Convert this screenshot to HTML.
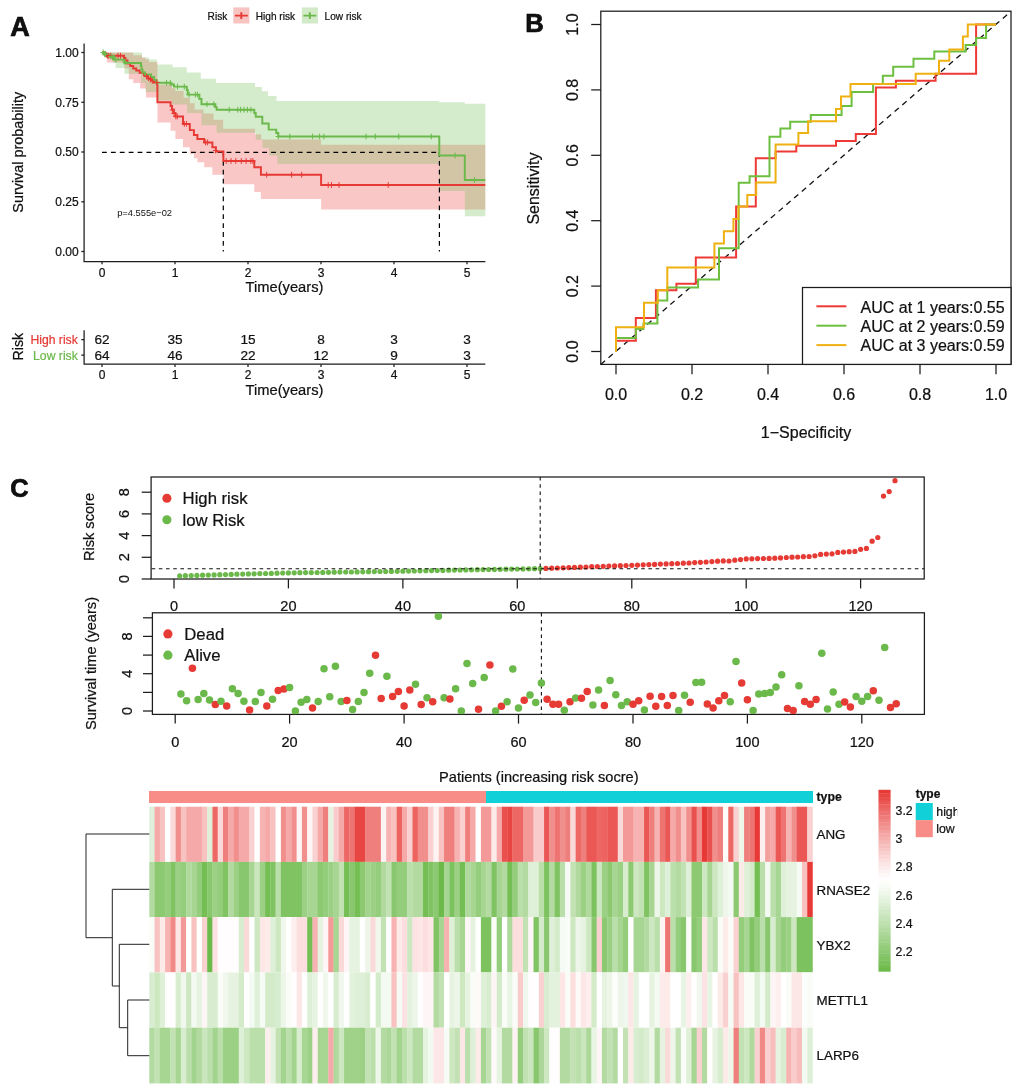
<!DOCTYPE html><html><head><meta charset="utf-8"><title>Figure</title>
<style>html,body{margin:0;padding:0;background:#fff}svg{display:block}text{font-family:"Liberation Sans",Arial,Helvetica,sans-serif;fill:#111;stroke:#111;stroke-width:0.22px}.b{stroke:#000;stroke-width:0.7px}</style></head><body>
<svg width="1020" height="1092" viewBox="0 0 1020 1092">
<rect width="1020" height="1092" fill="#fff"/>
<g id="panelA">
<text class="b" x="10.3" y="35.6" font-size="27" font-weight="bold" fill="#000">A</text>
<path d="M102.0,52.5 L133.2,52.5 L133.2,55.2 L142.0,55.2 L142.0,57.6 L145.5,57.6 L145.5,59.6 L149.0,59.6 L149.0,62.1 L157.5,62.1 L157.5,84.5 L172.0,84.5 L172.0,88.2 L175.4,88.2 L175.4,91.0 L183.6,91.0 L183.6,97.8 L189.8,97.8 L189.8,103.3 L194.6,103.3 L194.6,109.5 L203.5,109.5 L203.5,113.6 L213.5,113.6 L213.5,119.8 L223.2,119.8 L223.2,128.7 L255.0,128.7 L255.0,134.2 L261.2,134.2 L261.2,139.5 L321.1,139.5 L321.1,144.7 L485.3,144.7 L485.3,209.4 L321.1,209.4 L321.1,199.0 L260.9,199.0 L260.9,191.9 L254.3,191.9 L254.3,184.3 L223.4,184.3 L223.4,174.7 L212.4,174.7 L212.4,167.2 L204.2,167.2 L204.2,162.3 L197.4,162.3 L197.4,158.2 L193.9,158.2 L193.9,154.1 L189.8,154.1 L189.8,147.3 L183.0,147.3 L183.0,139.0 L175.4,139.0 L175.4,130.8 L170.6,130.8 L170.6,122.5 L157.5,122.5 L157.5,97.4 L146.0,97.4 L146.0,88.5 L140.1,88.5 L140.1,83.1 L133.2,83.1 L133.2,79.2 L128.8,79.2 L128.8,68.4 L124.4,68.4 L124.4,62.5 L106.8,62.5 L106.8,57.0 L105.0,57.0 L105.0,52.5 L102.0,52.5Z" fill="#ee4646" fill-opacity="0.3" stroke="none"/>
<path d="M102.0,52.5 L142.0,52.5 L142.0,57.6 L149.0,57.6 L149.0,59.6 L156.9,59.6 L156.9,64.4 L172.6,64.4 L172.6,67.2 L186.8,67.2 L186.8,72.6 L200.8,72.6 L200.8,78.8 L215.9,78.8 L215.9,82.9 L255.0,82.9 L255.0,87.1 L261.9,87.1 L261.9,91.2 L268.0,91.2 L268.0,96.0 L276.5,96.0 L276.5,101.1 L439.3,101.1 L439.3,102.2 L464.8,102.2 L464.8,103.7 L485.3,103.7 L485.3,216.3 L464.8,216.3 L464.8,191.1 L439.3,191.1 L439.3,164.0 L277.4,164.0 L277.4,155.5 L269.1,155.5 L269.1,147.9 L262.5,147.9 L262.5,139.7 L255.7,139.7 L255.7,132.8 L216.6,132.8 L216.6,125.3 L201.5,125.3 L201.5,112.9 L187.0,112.9 L187.0,104.4 L172.0,104.4 L172.0,100.6 L157.0,100.6 L157.0,92.0 L145.5,92.0 L145.5,83.1 L141.0,83.1 L141.0,73.8 L124.4,73.8 L124.4,68.0 L115.6,68.0 L115.6,63.0 L113.0,63.0 L113.0,58.6 L108.0,58.6 L108.0,56.0 L104.0,56.0 L104.0,52.5 L102.0,52.5Z" fill="#74bf56" fill-opacity="0.3" stroke="none"/>
<g stroke="#000" stroke-width="1.2" stroke-dasharray="4.8,4.1" fill="none">
<path d="M102,152.4H439.3"/><path d="M223.3,152V251.5"/><path d="M439.4,152V251.5"/></g>
<path d="M102.0,52.5 L105.0,52.5 L105.0,54.0 L107.0,54.0 L107.0,55.7 L124.0,55.7 L124.0,58.0 L125.5,58.0 L125.5,60.5 L127.5,60.5 L127.5,63.5 L130.3,63.5 L130.3,66.0 L133.2,66.0 L133.2,68.4 L136.2,68.4 L136.2,70.4 L139.6,70.4 L139.6,72.8 L144.0,72.8 L144.0,75.3 L148.0,75.3 L148.0,78.2 L151.0,78.2 L151.0,80.2 L153.8,80.2 L153.8,82.4 L157.4,82.4 L157.4,102.2 L170.6,102.2 L170.6,106.0 L172.0,106.0 L172.0,109.5 L173.7,109.5 L173.7,113.0 L175.4,113.0 L175.4,116.4 L183.0,116.4 L183.0,123.9 L189.8,123.9 L189.8,130.1 L193.9,130.1 L193.9,134.9 L197.4,134.9 L197.4,139.0 L204.2,139.0 L204.2,142.4 L212.4,142.4 L212.4,147.3 L215.9,147.3 L215.9,151.4 L223.4,151.4 L223.4,161.0 L254.3,161.0 L254.3,167.2 L260.9,167.2 L260.9,174.7 L321.1,174.7 L321.1,185.0 L485.3,185.0" fill="none" stroke="#e63a35" stroke-width="1.95" stroke-linejoin="miter"/>
<path d="M102.0,52.5 L104.0,52.5 L104.0,54.0 L108.0,54.0 L108.0,56.0 L114.0,56.0 L114.0,59.6 L124.4,59.6 L124.4,63.0 L141.0,63.0 L141.0,66.0 L141.5,66.0 L141.5,69.5 L142.5,69.5 L142.5,72.5 L145.0,72.5 L145.0,74.5 L151.0,74.5 L151.0,77.0 L154.0,77.0 L154.0,80.0 L156.5,80.0 L156.5,82.8 L170.6,82.8 L170.6,84.5 L174.0,84.5 L174.0,86.6 L186.8,86.6 L186.8,90.0 L187.7,90.0 L187.7,94.6 L199.4,94.6 L199.4,99.0 L201.5,99.0 L201.5,104.2 L215.2,104.2 L215.2,107.0 L216.6,107.0 L216.6,109.7 L254.3,109.7 L254.3,113.0 L255.7,113.0 L255.7,116.8 L262.3,116.8 L262.3,123.4 L268.7,123.4 L268.7,129.6 L276.3,129.6 L276.3,133.0 L278.3,133.0 L278.3,136.5 L439.3,136.5 L439.3,155.5 L464.8,155.5 L464.8,179.9 L485.3,179.9" fill="none" stroke="#6bb94a" stroke-width="1.95" stroke-linejoin="miter"/>
<path d="M103.5,55.0h5.4M106.2,52.1v5.8M104.9,55.7h5.4M107.6,52.8v5.8M106.1,55.7h5.4M108.8,52.8v5.8M107.9,55.7h5.4M110.6,52.8v5.8M115.3,55.7h5.4M118.0,52.8v5.8M117.8,55.7h5.4M120.5,52.8v5.8M143.8,76.5h5.4M146.5,73.6v5.8M145.8,78.2h5.4M148.5,75.3v5.8M147.8,79.5h5.4M150.5,76.6v5.8M149.6,81.0h5.4M152.3,78.1v5.8M154.1,82.5h5.4M156.8,79.6v5.8M169.8,110.0h5.4M172.5,107.1v5.8M171.3,113.5h5.4M174.0,110.6v5.8M173.1,116.4h5.4M175.8,113.5v5.8M174.6,116.4h5.4M177.3,113.5v5.8M181.6,123.9h5.4M184.3,121.0v5.8M183.7,123.9h5.4M186.4,121.0v5.8M202.9,142.4h5.4M205.6,139.5v5.8M204.9,142.4h5.4M207.6,139.5v5.8M212.9,150.5h5.4M215.6,147.6v5.8M223.5,161.0h5.4M226.2,158.1v5.8M228.3,161.0h5.4M231.0,158.1v5.8M233.1,161.0h5.4M235.8,158.1v5.8M238.6,161.0h5.4M241.3,158.1v5.8M243.4,161.0h5.4M246.1,158.1v5.8M248.2,161.0h5.4M250.9,158.1v5.8M250.2,161.0h5.4M252.9,158.1v5.8M264.0,174.7h5.4M266.7,171.8v5.8M288.9,174.7h5.4M291.6,171.8v5.8M299.0,174.7h5.4M301.7,171.8v5.8M325.5,185.0h5.4M328.2,182.1v5.8M328.8,185.0h5.4M331.5,182.1v5.8M336.3,185.0h5.4M339.0,182.1v5.8M385.5,185.0h5.4M388.2,182.1v5.8" fill="none" stroke="#e63a35" stroke-width="1"/>
<path d="M100.5,52.5h5.4M103.2,49.6v5.8M101.9,54.0h5.4M104.6,51.1v5.8M102.8,54.0h5.4M105.5,51.1v5.8M108.3,56.5h5.4M111.0,53.6v5.8M109.8,57.5h5.4M112.5,54.6v5.8M113.1,59.6h5.4M115.8,56.7v5.8M122.1,62.0h5.4M124.8,59.1v5.8M163.8,82.8h5.4M166.5,79.9v5.8M167.6,82.8h5.4M170.3,79.9v5.8M174.8,86.6h5.4M177.5,83.7v5.8M181.6,86.6h5.4M184.3,83.7v5.8M186.4,94.6h5.4M189.1,91.7v5.8M192.6,94.6h5.4M195.3,91.7v5.8M194.7,94.6h5.4M197.4,91.7v5.8M204.3,104.2h5.4M207.0,101.3v5.8M211.1,104.2h5.4M213.8,101.3v5.8M226.6,109.7h5.4M229.3,106.8v5.8M235.1,109.7h5.4M237.8,106.8v5.8M237.9,109.7h5.4M240.6,106.8v5.8M241.3,109.7h5.4M244.0,106.8v5.8M244.7,109.7h5.4M247.4,106.8v5.8M248.2,109.7h5.4M250.9,106.8v5.8M275.6,136.5h5.4M278.3,133.6v5.8M287.1,136.5h5.4M289.8,133.6v5.8M310.0,136.5h5.4M312.7,133.6v5.8M316.9,136.5h5.4M319.6,133.6v5.8M321.2,136.5h5.4M323.9,133.6v5.8M363.3,136.5h5.4M366.0,133.6v5.8M372.6,136.5h5.4M375.3,133.6v5.8M396.1,136.5h5.4M398.8,133.6v5.8M428.6,136.5h5.4M431.3,133.6v5.8M452.4,155.5h5.4M455.1,152.6v5.8M471.8,179.9h5.4M474.5,177.0v5.8" fill="none" stroke="#6bb94a" stroke-width="1"/>
<g stroke="#1c1c1c" stroke-width="1.25" fill="none">
<path d="M84.1,43.5V261.5H485.3"/>
<path d="M81.3,52.5H84.1"/>
<path d="M81.3,102.3H84.1"/>
<path d="M81.3,152H84.1"/>
<path d="M81.3,201.8H84.1"/>
<path d="M81.3,251.5H84.1"/>
<path d="M102,261.5V264.3"/>
<path d="M175,261.5V264.3"/>
<path d="M248,261.5V264.3"/>
<path d="M321,261.5V264.3"/>
<path d="M394,261.5V264.3"/>
<path d="M467,261.5V264.3"/>
</g>
<text x="78.6" y="56.8" font-size="12" text-anchor="end">1.00</text>
<text x="78.6" y="106.6" font-size="12" text-anchor="end">0.75</text>
<text x="78.6" y="156.3" font-size="12" text-anchor="end">0.50</text>
<text x="78.6" y="206.10000000000002" font-size="12" text-anchor="end">0.25</text>
<text x="78.6" y="255.8" font-size="12" text-anchor="end">0.00</text>
<text x="102" y="276.7" font-size="12" text-anchor="middle">0</text>
<text x="175" y="276.7" font-size="12" text-anchor="middle">1</text>
<text x="248" y="276.7" font-size="12" text-anchor="middle">2</text>
<text x="321" y="276.7" font-size="12" text-anchor="middle">3</text>
<text x="394" y="276.7" font-size="12" text-anchor="middle">4</text>
<text x="467" y="276.7" font-size="12" text-anchor="middle">5</text>
<text x="284.5" y="292.3" font-size="14.7" text-anchor="middle">Time(years)</text>
<text transform="translate(23.2,152.3) rotate(-90)" font-size="14.4" text-anchor="middle">Survival probability</text>
<text x="117.2" y="215.6" font-size="9.3" style="stroke:none">p=4.555e−02</text>
<text x="207.6" y="19.7" font-size="10.1">Risk</text>
<rect x="233.3" y="7.4" width="16.1" height="16.1" fill="#e63a35" fill-opacity="0.3"/>
<path d="M234.9,15.6H247.8M241.3,12.2V19" stroke="#e63a35" stroke-width="1.9" fill="none"/>
<text x="255.8" y="19.7" font-size="10.1">High risk</text>
<rect x="301.8" y="7.4" width="16.1" height="16.1" fill="#6bb94a" fill-opacity="0.3"/>
<path d="M303.4,15.6H316.3M309.8,12.2V19" stroke="#6bb94a" stroke-width="1.9" fill="none"/>
<text x="324.6" y="19.7" font-size="10.1">Low risk</text>
<g stroke="#1c1c1c" stroke-width="1.25" fill="none">
<path d="M84.1,330.3V364.2H485.3"/>
<path d="M81.3,339.6H84.1M81.3,355.2H84.1"/>
<path d="M102,364.2V367"/>
<path d="M175,364.2V367"/>
<path d="M248,364.2V367"/>
<path d="M321,364.2V367"/>
<path d="M394,364.2V367"/>
<path d="M467,364.2V367"/>
</g>
<text x="77.8" y="344" font-size="12.2" text-anchor="end" fill="#e63a35" style="fill:#e63a35;stroke:#e63a35">High risk</text>
<text x="77.8" y="359.6" font-size="12.2" text-anchor="end" fill="#6bb94a" style="fill:#6bb94a;stroke:#6bb94a">Low risk</text>
<text x="102" y="344.3" font-size="13.6" text-anchor="middle">62</text>
<text x="102" y="360" font-size="13.6" text-anchor="middle">64</text>
<text x="102" y="379.2" font-size="12" text-anchor="middle">0</text>
<text x="175" y="344.3" font-size="13.6" text-anchor="middle">35</text>
<text x="175" y="360" font-size="13.6" text-anchor="middle">46</text>
<text x="175" y="379.2" font-size="12" text-anchor="middle">1</text>
<text x="248" y="344.3" font-size="13.6" text-anchor="middle">15</text>
<text x="248" y="360" font-size="13.6" text-anchor="middle">22</text>
<text x="248" y="379.2" font-size="12" text-anchor="middle">2</text>
<text x="321" y="344.3" font-size="13.6" text-anchor="middle">8</text>
<text x="321" y="360" font-size="13.6" text-anchor="middle">12</text>
<text x="321" y="379.2" font-size="12" text-anchor="middle">3</text>
<text x="394" y="344.3" font-size="13.6" text-anchor="middle">3</text>
<text x="394" y="360" font-size="13.6" text-anchor="middle">9</text>
<text x="394" y="379.2" font-size="12" text-anchor="middle">4</text>
<text x="467" y="344.3" font-size="13.6" text-anchor="middle">3</text>
<text x="467" y="360" font-size="13.6" text-anchor="middle">3</text>
<text x="467" y="379.2" font-size="12" text-anchor="middle">5</text>
<text x="284.5" y="394.8" font-size="14.7" text-anchor="middle">Time(years)</text>
<text transform="translate(23.4,346.6) rotate(-90)" font-size="14.2" text-anchor="middle">Risk</text>
</g>
<g id="panelB">
<text class="b" x="525.2" y="32.3" font-size="25.6" font-weight="bold" fill="#000">B</text>
<rect x="600.8" y="11.2" width="410.2" height="353.2" fill="none" stroke="#1c1c1c" stroke-width="1.25"/>
<g stroke="#1c1c1c" stroke-width="1.25" fill="none">
<path d="M616.0,364.4v9.8"/>
<path d="M600.8,351.5h-9.6"/>
<path d="M692.0,364.4v9.8"/>
<path d="M600.8,286.1h-9.6"/>
<path d="M768.0,364.4v9.8"/>
<path d="M600.8,220.7h-9.6"/>
<path d="M844.0,364.4v9.8"/>
<path d="M600.8,155.3h-9.6"/>
<path d="M920.0,364.4v9.8"/>
<path d="M600.8,89.9h-9.6"/>
<path d="M996.0,364.4v9.8"/>
<path d="M600.8,24.5h-9.6"/>
</g>
<text x="616.0" y="400.1" font-size="16" text-anchor="middle">0.0</text>
<text transform="translate(577.6,351.5) rotate(-90)" font-size="16" text-anchor="middle">0.0</text>
<text x="692.0" y="400.1" font-size="16" text-anchor="middle">0.2</text>
<text transform="translate(577.6,286.1) rotate(-90)" font-size="16" text-anchor="middle">0.2</text>
<text x="768.0" y="400.1" font-size="16" text-anchor="middle">0.4</text>
<text transform="translate(577.6,220.7) rotate(-90)" font-size="16" text-anchor="middle">0.4</text>
<text x="844.0" y="400.1" font-size="16" text-anchor="middle">0.6</text>
<text transform="translate(577.6,155.3) rotate(-90)" font-size="16" text-anchor="middle">0.6</text>
<text x="920.0" y="400.1" font-size="16" text-anchor="middle">0.8</text>
<text transform="translate(577.6,89.9) rotate(-90)" font-size="16" text-anchor="middle">0.8</text>
<text x="996.0" y="400.1" font-size="16" text-anchor="middle">1.0</text>
<text transform="translate(577.6,24.5) rotate(-90)" font-size="16" text-anchor="middle">1.0</text>
<text x="806" y="438.3" font-size="16" text-anchor="middle">1−Specificity</text>
<text transform="translate(538.8,188.6) rotate(-90)" font-size="16" text-anchor="middle">Sensitivity</text>
<path d="M600.8,364.4L1011,11.4" stroke="#111" stroke-width="1.3" stroke-dasharray="5.6,4.6" fill="none"/>
<path d="M616.0,351.5 L616.0,351.5 L616.0,340.7 L635.8,340.7 L635.8,318.1 L655.9,318.1 L655.9,290.2 L676.4,290.2 L676.4,283.8 L695.8,283.8 L695.8,257.5 L736.1,257.5 L736.1,206.6 L755.8,206.6 L755.8,158.2 L775.6,158.2 L775.6,151.4 L796.3,151.4 L796.3,145.8 L836.0,145.8 L836.0,140.9 L855.8,140.9 L855.8,134.0 L875.9,134.0 L875.9,87.6 L895.9,87.6 L895.9,80.7 L935.6,80.7 L935.6,73.7 L976.1,73.7 L976.1,24.5 L996.0,24.5" fill="none" stroke="#ee3a36" stroke-width="2" stroke-linejoin="miter"/>
<path d="M616.0,351.5 L616.0,351.5 L616.0,338.1 L635.8,338.1 L635.8,328.9 L643.4,328.9 L643.4,323.5 L657.4,323.5 L657.4,300.5 L667.3,300.5 L667.3,287.4 L698.1,287.4 L698.1,279.6 L719.0,279.6 L719.0,248.2 L738.7,248.2 L738.7,182.8 L749.6,182.8 L749.6,176.2 L769.5,176.2 L769.5,136.8 L780.4,136.8 L780.4,128.6 L790.2,128.6 L790.2,121.7 L810.8,121.7 L810.8,115.1 L841.6,115.1 L841.6,106.1 L851.6,106.1 L851.6,91.9 L873.1,91.9 L873.1,84.1 L882.8,84.1 L882.8,75.8 L893.2,75.8 L893.2,66.8 L913.5,66.8 L913.5,58.8 L934.3,58.8 L934.3,51.6 L965.6,51.6 L965.6,44.9 L976.1,44.9 L976.1,38.0 L986.1,38.0 L986.1,24.5 L996.0,24.5" fill="none" stroke="#6cbf3f" stroke-width="2" stroke-linejoin="miter"/>
<path d="M616.0,351.5 L616.0,351.5 L616.0,327.3 L644.0,327.3 L644.0,302.8 L657.8,302.8 L657.8,290.2 L667.3,290.2 L667.3,267.6 L714.4,267.6 L714.4,243.6 L723.9,243.6 L723.9,231.2 L733.4,231.2 L733.4,219.1 L738.4,219.1 L738.4,206.6 L747.3,206.6 L747.3,194.9 L756.2,194.9 L756.2,182.4 L775.6,182.4 L775.6,144.5 L798.4,144.5 L798.4,133.1 L808.1,133.1 L808.1,121.3 L836.0,121.3 L836.0,108.9 L841.0,108.9 L841.0,96.4 L850.5,96.4 L850.5,84.1 L915.7,84.1 L915.7,73.7 L939.0,73.7 L939.0,60.8 L949.3,60.8 L949.3,49.4 L962.9,49.4 L962.9,36.6 L967.8,36.6 L967.8,24.5 L996.0,24.5" fill="none" stroke="#eeb111" stroke-width="2" stroke-linejoin="miter"/>
<rect x="802.5" y="287.5" width="208.5" height="76.9" fill="#fff" stroke="#1c1c1c" stroke-width="1.25"/>
<path d="M816.4,306.3H846.4" stroke="#ee3a36" stroke-width="2"/>
<text x="860.6" y="312.6" font-size="16">AUC at 1 years:0.55</text>
<path d="M816.4,325.7H846.4" stroke="#6cbf3f" stroke-width="2"/>
<text x="860.6" y="332.0" font-size="16">AUC at 2 years:0.59</text>
<path d="M816.4,345.1H846.4" stroke="#eeb111" stroke-width="2"/>
<text x="860.6" y="351.4" font-size="16">AUC at 3 years:0.59</text>
</g>
<g id="panelC">
<text class="b" x="10.3" y="497.2" font-size="25.4" font-weight="bold" fill="#000">C</text>
<rect x="151.1" y="477" width="773.1" height="102" fill="none" stroke="#1c1c1c" stroke-width="1.25"/>
<g stroke="#1c1c1c" stroke-width="1.25" fill="none">
<path d="M174.0,579v9.4"/>
<path d="M288.4,579v9.4"/>
<path d="M402.9,579v9.4"/>
<path d="M517.3,579v9.4"/>
<path d="M631.8,579v9.4"/>
<path d="M746.2,579v9.4"/>
<path d="M860.6,579v9.4"/>
<path d="M151.1,579.0h-9.4"/>
<path d="M151.1,557.3h-9.4"/>
<path d="M151.1,535.6h-9.4"/>
<path d="M151.1,513.9h-9.4"/>
<path d="M151.1,492.2h-9.4"/>
</g>
<text x="174.0" y="610.6" font-size="14.5" text-anchor="middle">0</text>
<text x="288.4" y="610.6" font-size="14.5" text-anchor="middle">20</text>
<text x="402.9" y="610.6" font-size="14.5" text-anchor="middle">40</text>
<text x="517.3" y="610.6" font-size="14.5" text-anchor="middle">60</text>
<text x="631.8" y="610.6" font-size="14.5" text-anchor="middle">80</text>
<text x="746.2" y="610.6" font-size="14.5" text-anchor="middle">100</text>
<text x="860.6" y="610.6" font-size="14.5" text-anchor="middle">120</text>
<text transform="translate(129.4,579.0) rotate(-90)" font-size="14.5" text-anchor="middle">0</text>
<text transform="translate(129.4,557.3) rotate(-90)" font-size="14.5" text-anchor="middle">2</text>
<text transform="translate(129.4,535.6) rotate(-90)" font-size="14.5" text-anchor="middle">4</text>
<text transform="translate(129.4,513.9) rotate(-90)" font-size="14.5" text-anchor="middle">6</text>
<text transform="translate(129.4,492.2) rotate(-90)" font-size="14.5" text-anchor="middle">8</text>
<text transform="translate(94.2,527) rotate(-90)" font-size="14.6" text-anchor="middle">Risk score</text>
<circle cx="179.7" cy="575.9" r="2.6" fill="#6bb94a"/>
<circle cx="185.4" cy="575.7" r="2.6" fill="#6bb94a"/>
<circle cx="191.2" cy="575.6" r="2.6" fill="#6bb94a"/>
<circle cx="196.9" cy="575.4" r="2.6" fill="#6bb94a"/>
<circle cx="202.6" cy="575.2" r="2.6" fill="#6bb94a"/>
<circle cx="208.3" cy="575.1" r="2.6" fill="#6bb94a"/>
<circle cx="214.1" cy="574.9" r="2.6" fill="#6bb94a"/>
<circle cx="219.8" cy="574.7" r="2.6" fill="#6bb94a"/>
<circle cx="225.5" cy="574.6" r="2.6" fill="#6bb94a"/>
<circle cx="231.2" cy="574.4" r="2.6" fill="#6bb94a"/>
<circle cx="236.9" cy="574.2" r="2.6" fill="#6bb94a"/>
<circle cx="242.7" cy="574.1" r="2.6" fill="#6bb94a"/>
<circle cx="248.4" cy="573.9" r="2.6" fill="#6bb94a"/>
<circle cx="254.1" cy="573.8" r="2.6" fill="#6bb94a"/>
<circle cx="259.8" cy="573.6" r="2.6" fill="#6bb94a"/>
<circle cx="265.6" cy="573.5" r="2.6" fill="#6bb94a"/>
<circle cx="271.3" cy="573.4" r="2.6" fill="#6bb94a"/>
<circle cx="277.0" cy="573.2" r="2.6" fill="#6bb94a"/>
<circle cx="282.7" cy="573.0" r="2.6" fill="#6bb94a"/>
<circle cx="288.4" cy="572.9" r="2.6" fill="#6bb94a"/>
<circle cx="294.2" cy="572.8" r="2.6" fill="#6bb94a"/>
<circle cx="299.9" cy="572.7" r="2.6" fill="#6bb94a"/>
<circle cx="305.6" cy="572.6" r="2.6" fill="#6bb94a"/>
<circle cx="311.3" cy="572.6" r="2.6" fill="#6bb94a"/>
<circle cx="317.1" cy="572.5" r="2.6" fill="#6bb94a"/>
<circle cx="322.8" cy="572.4" r="2.6" fill="#6bb94a"/>
<circle cx="328.5" cy="572.3" r="2.6" fill="#6bb94a"/>
<circle cx="334.2" cy="572.2" r="2.6" fill="#6bb94a"/>
<circle cx="339.9" cy="572.1" r="2.6" fill="#6bb94a"/>
<circle cx="345.7" cy="572.0" r="2.6" fill="#6bb94a"/>
<circle cx="351.4" cy="572.0" r="2.6" fill="#6bb94a"/>
<circle cx="357.1" cy="571.9" r="2.6" fill="#6bb94a"/>
<circle cx="362.8" cy="571.8" r="2.6" fill="#6bb94a"/>
<circle cx="368.5" cy="571.7" r="2.6" fill="#6bb94a"/>
<circle cx="374.3" cy="571.6" r="2.6" fill="#6bb94a"/>
<circle cx="380.0" cy="571.5" r="2.6" fill="#6bb94a"/>
<circle cx="385.7" cy="571.5" r="2.6" fill="#6bb94a"/>
<circle cx="391.4" cy="571.4" r="2.6" fill="#6bb94a"/>
<circle cx="397.2" cy="571.3" r="2.6" fill="#6bb94a"/>
<circle cx="402.9" cy="571.2" r="2.6" fill="#6bb94a"/>
<circle cx="408.6" cy="571.1" r="2.6" fill="#6bb94a"/>
<circle cx="414.3" cy="571.0" r="2.6" fill="#6bb94a"/>
<circle cx="420.0" cy="570.8" r="2.6" fill="#6bb94a"/>
<circle cx="425.8" cy="570.7" r="2.6" fill="#6bb94a"/>
<circle cx="431.5" cy="570.6" r="2.6" fill="#6bb94a"/>
<circle cx="437.2" cy="570.5" r="2.6" fill="#6bb94a"/>
<circle cx="442.9" cy="570.4" r="2.6" fill="#6bb94a"/>
<circle cx="448.7" cy="570.2" r="2.6" fill="#6bb94a"/>
<circle cx="454.4" cy="570.1" r="2.6" fill="#6bb94a"/>
<circle cx="460.1" cy="570.0" r="2.6" fill="#6bb94a"/>
<circle cx="465.8" cy="569.9" r="2.6" fill="#6bb94a"/>
<circle cx="471.5" cy="569.8" r="2.6" fill="#6bb94a"/>
<circle cx="477.3" cy="569.7" r="2.6" fill="#6bb94a"/>
<circle cx="483.0" cy="569.6" r="2.6" fill="#6bb94a"/>
<circle cx="488.7" cy="569.5" r="2.6" fill="#6bb94a"/>
<circle cx="494.4" cy="569.4" r="2.6" fill="#6bb94a"/>
<circle cx="500.2" cy="569.3" r="2.6" fill="#6bb94a"/>
<circle cx="505.9" cy="569.2" r="2.6" fill="#6bb94a"/>
<circle cx="511.6" cy="569.1" r="2.6" fill="#6bb94a"/>
<circle cx="517.3" cy="569.0" r="2.6" fill="#6bb94a"/>
<circle cx="523.0" cy="568.9" r="2.6" fill="#6bb94a"/>
<circle cx="528.8" cy="568.8" r="2.6" fill="#6bb94a"/>
<circle cx="534.5" cy="568.7" r="2.6" fill="#6bb94a"/>
<circle cx="540.2" cy="568.6" r="2.6" fill="#6bb94a"/>
<circle cx="545.9" cy="568.4" r="2.6" fill="#e63a35"/>
<circle cx="551.7" cy="568.2" r="2.6" fill="#e63a35"/>
<circle cx="557.4" cy="568.0" r="2.6" fill="#e63a35"/>
<circle cx="563.1" cy="567.8" r="2.6" fill="#e63a35"/>
<circle cx="568.8" cy="567.6" r="2.6" fill="#e63a35"/>
<circle cx="574.5" cy="567.4" r="2.6" fill="#e63a35"/>
<circle cx="580.3" cy="567.2" r="2.6" fill="#e63a35"/>
<circle cx="586.0" cy="567.0" r="2.6" fill="#e63a35"/>
<circle cx="591.7" cy="566.7" r="2.6" fill="#e63a35"/>
<circle cx="597.4" cy="566.5" r="2.6" fill="#e63a35"/>
<circle cx="603.2" cy="566.3" r="2.6" fill="#e63a35"/>
<circle cx="608.9" cy="566.1" r="2.6" fill="#e63a35"/>
<circle cx="614.6" cy="565.9" r="2.6" fill="#e63a35"/>
<circle cx="620.3" cy="565.7" r="2.6" fill="#e63a35"/>
<circle cx="626.0" cy="565.5" r="2.6" fill="#e63a35"/>
<circle cx="631.8" cy="565.3" r="2.6" fill="#e63a35"/>
<circle cx="637.5" cy="565.1" r="2.6" fill="#e63a35"/>
<circle cx="643.2" cy="564.8" r="2.6" fill="#e63a35"/>
<circle cx="648.9" cy="564.6" r="2.6" fill="#e63a35"/>
<circle cx="654.6" cy="564.4" r="2.6" fill="#e63a35"/>
<circle cx="660.4" cy="564.1" r="2.6" fill="#e63a35"/>
<circle cx="666.1" cy="563.9" r="2.6" fill="#e63a35"/>
<circle cx="671.8" cy="563.7" r="2.6" fill="#e63a35"/>
<circle cx="677.5" cy="563.5" r="2.6" fill="#e63a35"/>
<circle cx="683.3" cy="563.2" r="2.6" fill="#e63a35"/>
<circle cx="689.0" cy="563.0" r="2.6" fill="#e63a35"/>
<circle cx="694.7" cy="562.6" r="2.6" fill="#e63a35"/>
<circle cx="700.4" cy="562.3" r="2.6" fill="#e63a35"/>
<circle cx="706.1" cy="562.0" r="2.6" fill="#e63a35"/>
<circle cx="711.9" cy="561.6" r="2.6" fill="#e63a35"/>
<circle cx="717.6" cy="561.2" r="2.6" fill="#e63a35"/>
<circle cx="723.3" cy="560.9" r="2.6" fill="#e63a35"/>
<circle cx="729.0" cy="561.0" r="2.6" fill="#e63a35"/>
<circle cx="734.8" cy="560.2" r="2.6" fill="#e63a35"/>
<circle cx="740.5" cy="559.6" r="2.6" fill="#e63a35"/>
<circle cx="746.2" cy="558.9" r="2.6" fill="#e63a35"/>
<circle cx="751.9" cy="558.8" r="2.6" fill="#e63a35"/>
<circle cx="757.6" cy="558.6" r="2.6" fill="#e63a35"/>
<circle cx="763.4" cy="558.5" r="2.6" fill="#e63a35"/>
<circle cx="769.1" cy="558.4" r="2.6" fill="#e63a35"/>
<circle cx="774.8" cy="558.2" r="2.6" fill="#e63a35"/>
<circle cx="780.5" cy="557.9" r="2.6" fill="#e63a35"/>
<circle cx="786.3" cy="557.5" r="2.6" fill="#e63a35"/>
<circle cx="792.0" cy="557.2" r="2.6" fill="#e63a35"/>
<circle cx="797.7" cy="557.0" r="2.6" fill="#e63a35"/>
<circle cx="803.4" cy="556.7" r="2.6" fill="#e63a35"/>
<circle cx="809.1" cy="556.5" r="2.6" fill="#e63a35"/>
<circle cx="814.9" cy="555.8" r="2.6" fill="#e63a35"/>
<circle cx="820.6" cy="554.4" r="2.6" fill="#e63a35"/>
<circle cx="826.3" cy="554.1" r="2.6" fill="#e63a35"/>
<circle cx="832.0" cy="553.8" r="2.6" fill="#e63a35"/>
<circle cx="837.8" cy="552.4" r="2.6" fill="#e63a35"/>
<circle cx="843.5" cy="552.1" r="2.6" fill="#e63a35"/>
<circle cx="849.2" cy="551.7" r="2.6" fill="#e63a35"/>
<circle cx="854.9" cy="551.4" r="2.6" fill="#e63a35"/>
<circle cx="860.6" cy="549.3" r="2.6" fill="#e63a35"/>
<circle cx="866.4" cy="548.4" r="2.6" fill="#e63a35"/>
<circle cx="872.1" cy="541.2" r="2.6" fill="#e63a35"/>
<circle cx="877.8" cy="537.5" r="2.6" fill="#e63a35"/>
<circle cx="883.5" cy="496.1" r="2.6" fill="#e63a35"/>
<circle cx="889.2" cy="491.6" r="2.6" fill="#e63a35"/>
<circle cx="895.0" cy="480.7" r="2.6" fill="#e63a35"/>
<g stroke="#111" stroke-width="1.1" stroke-dasharray="3.6,3.6" fill="none">
<path d="M151.6,568.7H924.2"/><path d="M540.2,477V579"/></g>
<circle cx="166.9" cy="498.3" r="4.55" fill="#e63a35"/><circle cx="166.9" cy="519.7" r="4.55" fill="#6bb94a"/>
<text x="182.6" y="504" font-size="16.7">High risk</text><text x="182.6" y="525.5" font-size="16.7">low Risk</text>
<rect x="152.4" y="612.8" width="772" height="101.6" fill="none" stroke="#1c1c1c" stroke-width="1.25"/>
<g stroke="#1c1c1c" stroke-width="1.25" fill="none">
<path d="M175.2,714.2v9.4"/>
<path d="M289.6,714.2v9.4"/>
<path d="M404.1,714.2v9.4"/>
<path d="M518.5,714.2v9.4"/>
<path d="M633.0,714.2v9.4"/>
<path d="M747.4,714.2v9.4"/>
<path d="M861.8,714.2v9.4"/>
<path d="M152.4,711.0h-9.4"/>
<path d="M152.4,692.4h-9.4"/>
<path d="M152.4,673.7h-9.4"/>
<path d="M152.4,655.1h-9.4"/>
<path d="M152.4,636.4h-9.4"/>
<path d="M152.4,617.8h-9.4"/>
</g>
<text x="175.2" y="747.2" font-size="14.5" text-anchor="middle">0</text>
<text x="289.6" y="747.2" font-size="14.5" text-anchor="middle">20</text>
<text x="404.1" y="747.2" font-size="14.5" text-anchor="middle">40</text>
<text x="518.5" y="747.2" font-size="14.5" text-anchor="middle">60</text>
<text x="633.0" y="747.2" font-size="14.5" text-anchor="middle">80</text>
<text x="747.4" y="747.2" font-size="14.5" text-anchor="middle">100</text>
<text x="861.8" y="747.2" font-size="14.5" text-anchor="middle">120</text>
<text transform="translate(132.2,711.0) rotate(-90)" font-size="14.5" text-anchor="middle">0</text>
<text transform="translate(132.2,673.7) rotate(-90)" font-size="14.5" text-anchor="middle">4</text>
<text transform="translate(132.2,636.4) rotate(-90)" font-size="14.5" text-anchor="middle">8</text>
<text transform="translate(95.9,663.5) rotate(-90)" font-size="14.6" text-anchor="middle">Survival time (years)</text>
<path d="M541.4,612.8V714.2" stroke="#111" stroke-width="1.1" stroke-dasharray="3.6,3.6" fill="none"/>
<clipPath id="cb"><rect x="151.6" y="612.8" width="772.6" height="101.4"/></clipPath><g clip-path="url(#cb)">
<circle cx="180.9" cy="693.9" r="3.75" fill="#6bb94a"/>
<circle cx="186.6" cy="700.8" r="3.75" fill="#6bb94a"/>
<circle cx="192.4" cy="668.2" r="3.75" fill="#e63a35"/>
<circle cx="198.1" cy="699.4" r="3.75" fill="#6bb94a"/>
<circle cx="203.8" cy="693.6" r="3.75" fill="#6bb94a"/>
<circle cx="209.5" cy="700.0" r="3.75" fill="#6bb94a"/>
<circle cx="215.3" cy="704.6" r="3.75" fill="#e63a35"/>
<circle cx="221.0" cy="701.2" r="3.75" fill="#6bb94a"/>
<circle cx="226.7" cy="706.1" r="3.75" fill="#e63a35"/>
<circle cx="232.4" cy="688.8" r="3.75" fill="#6bb94a"/>
<circle cx="238.1" cy="693.6" r="3.75" fill="#6bb94a"/>
<circle cx="243.9" cy="701.2" r="3.75" fill="#6bb94a"/>
<circle cx="249.6" cy="710.1" r="3.75" fill="#e63a35"/>
<circle cx="255.3" cy="701.4" r="3.75" fill="#6bb94a"/>
<circle cx="261.0" cy="692.4" r="3.75" fill="#6bb94a"/>
<circle cx="266.8" cy="705.9" r="3.75" fill="#e63a35"/>
<circle cx="272.5" cy="699.3" r="3.75" fill="#6bb94a"/>
<circle cx="278.2" cy="690.6" r="3.75" fill="#e63a35"/>
<circle cx="283.9" cy="689.0" r="3.75" fill="#e63a35"/>
<circle cx="289.6" cy="687.4" r="3.75" fill="#6bb94a"/>
<circle cx="295.4" cy="711.0" r="3.75" fill="#6bb94a"/>
<circle cx="301.1" cy="702.3" r="3.75" fill="#6bb94a"/>
<circle cx="306.8" cy="699.4" r="3.75" fill="#6bb94a"/>
<circle cx="312.5" cy="708.0" r="3.75" fill="#e63a35"/>
<circle cx="318.2" cy="701.4" r="3.75" fill="#6bb94a"/>
<circle cx="324.0" cy="668.8" r="3.75" fill="#6bb94a"/>
<circle cx="329.7" cy="696.8" r="3.75" fill="#6bb94a"/>
<circle cx="335.4" cy="666.3" r="3.75" fill="#6bb94a"/>
<circle cx="341.1" cy="701.4" r="3.75" fill="#6bb94a"/>
<circle cx="346.9" cy="700.4" r="3.75" fill="#e63a35"/>
<circle cx="352.6" cy="709.6" r="3.75" fill="#6bb94a"/>
<circle cx="358.3" cy="701.4" r="3.75" fill="#6bb94a"/>
<circle cx="364.0" cy="692.5" r="3.75" fill="#6bb94a"/>
<circle cx="369.7" cy="673.2" r="3.75" fill="#6bb94a"/>
<circle cx="375.5" cy="655.3" r="3.75" fill="#e63a35"/>
<circle cx="381.2" cy="698.4" r="3.75" fill="#e63a35"/>
<circle cx="386.9" cy="676.2" r="3.75" fill="#6bb94a"/>
<circle cx="392.6" cy="696.5" r="3.75" fill="#e63a35"/>
<circle cx="398.4" cy="691.4" r="3.75" fill="#e63a35"/>
<circle cx="404.1" cy="706.1" r="3.75" fill="#e63a35"/>
<circle cx="409.8" cy="690.0" r="3.75" fill="#e63a35"/>
<circle cx="415.5" cy="684.3" r="3.75" fill="#6bb94a"/>
<circle cx="421.2" cy="704.6" r="3.75" fill="#e63a35"/>
<circle cx="427.0" cy="697.7" r="3.75" fill="#6bb94a"/>
<circle cx="432.7" cy="701.8" r="3.75" fill="#e63a35"/>
<circle cx="438.4" cy="616.2" r="3.75" fill="#6bb94a"/>
<circle cx="444.1" cy="697.7" r="3.75" fill="#6bb94a"/>
<circle cx="449.9" cy="698.9" r="3.75" fill="#e63a35"/>
<circle cx="455.6" cy="688.8" r="3.75" fill="#6bb94a"/>
<circle cx="461.3" cy="711.0" r="3.75" fill="#6bb94a"/>
<circle cx="467.0" cy="663.6" r="3.75" fill="#6bb94a"/>
<circle cx="472.7" cy="683.5" r="3.75" fill="#6bb94a"/>
<circle cx="478.5" cy="709.2" r="3.75" fill="#e63a35"/>
<circle cx="484.2" cy="677.6" r="3.75" fill="#6bb94a"/>
<circle cx="489.9" cy="664.9" r="3.75" fill="#e63a35"/>
<circle cx="495.6" cy="711.0" r="3.75" fill="#6bb94a"/>
<circle cx="501.4" cy="706.3" r="3.75" fill="#e63a35"/>
<circle cx="507.1" cy="701.8" r="3.75" fill="#6bb94a"/>
<circle cx="512.8" cy="669.1" r="3.75" fill="#6bb94a"/>
<circle cx="518.5" cy="708.0" r="3.75" fill="#6bb94a"/>
<circle cx="524.2" cy="700.2" r="3.75" fill="#e63a35"/>
<circle cx="530.0" cy="694.9" r="3.75" fill="#6bb94a"/>
<circle cx="535.7" cy="702.6" r="3.75" fill="#6bb94a"/>
<circle cx="541.4" cy="683.0" r="3.75" fill="#6bb94a"/>
<circle cx="547.1" cy="699.3" r="3.75" fill="#e63a35"/>
<circle cx="552.9" cy="704.3" r="3.75" fill="#e63a35"/>
<circle cx="558.6" cy="704.3" r="3.75" fill="#e63a35"/>
<circle cx="564.3" cy="710.3" r="3.75" fill="#6bb94a"/>
<circle cx="570.0" cy="701.7" r="3.75" fill="#e63a35"/>
<circle cx="575.7" cy="698.0" r="3.75" fill="#6bb94a"/>
<circle cx="581.5" cy="698.2" r="3.75" fill="#e63a35"/>
<circle cx="587.2" cy="691.4" r="3.75" fill="#e63a35"/>
<circle cx="592.9" cy="705.1" r="3.75" fill="#6bb94a"/>
<circle cx="598.6" cy="690.0" r="3.75" fill="#6bb94a"/>
<circle cx="604.4" cy="705.4" r="3.75" fill="#e63a35"/>
<circle cx="610.1" cy="680.6" r="3.75" fill="#6bb94a"/>
<circle cx="615.8" cy="694.7" r="3.75" fill="#6bb94a"/>
<circle cx="621.5" cy="705.5" r="3.75" fill="#6bb94a"/>
<circle cx="627.2" cy="701.8" r="3.75" fill="#6bb94a"/>
<circle cx="633.0" cy="704.3" r="3.75" fill="#e63a35"/>
<circle cx="638.7" cy="700.8" r="3.75" fill="#e63a35"/>
<circle cx="644.4" cy="710.1" r="3.75" fill="#6bb94a"/>
<circle cx="650.1" cy="696.3" r="3.75" fill="#e63a35"/>
<circle cx="655.8" cy="706.3" r="3.75" fill="#e63a35"/>
<circle cx="661.6" cy="696.6" r="3.75" fill="#e63a35"/>
<circle cx="667.3" cy="705.5" r="3.75" fill="#e63a35"/>
<circle cx="673.0" cy="695.5" r="3.75" fill="#e63a35"/>
<circle cx="678.7" cy="710.6" r="3.75" fill="#6bb94a"/>
<circle cx="684.5" cy="695.3" r="3.75" fill="#6bb94a"/>
<circle cx="690.2" cy="702.3" r="3.75" fill="#e63a35"/>
<circle cx="695.9" cy="682.4" r="3.75" fill="#6bb94a"/>
<circle cx="701.6" cy="682.2" r="3.75" fill="#6bb94a"/>
<circle cx="707.3" cy="704.1" r="3.75" fill="#e63a35"/>
<circle cx="713.1" cy="708.0" r="3.75" fill="#e63a35"/>
<circle cx="718.8" cy="700.7" r="3.75" fill="#e63a35"/>
<circle cx="724.5" cy="695.6" r="3.75" fill="#e63a35"/>
<circle cx="730.2" cy="701.8" r="3.75" fill="#6bb94a"/>
<circle cx="736.0" cy="661.4" r="3.75" fill="#6bb94a"/>
<circle cx="741.7" cy="683.0" r="3.75" fill="#e63a35"/>
<circle cx="747.4" cy="699.7" r="3.75" fill="#e63a35"/>
<circle cx="753.1" cy="710.4" r="3.75" fill="#6bb94a"/>
<circle cx="758.8" cy="693.9" r="3.75" fill="#6bb94a"/>
<circle cx="764.6" cy="693.6" r="3.75" fill="#6bb94a"/>
<circle cx="770.3" cy="692.4" r="3.75" fill="#6bb94a"/>
<circle cx="776.0" cy="687.0" r="3.75" fill="#6bb94a"/>
<circle cx="781.7" cy="674.7" r="3.75" fill="#6bb94a"/>
<circle cx="787.5" cy="708.4" r="3.75" fill="#e63a35"/>
<circle cx="793.2" cy="710.4" r="3.75" fill="#e63a35"/>
<circle cx="798.9" cy="685.7" r="3.75" fill="#6bb94a"/>
<circle cx="804.6" cy="701.4" r="3.75" fill="#e63a35"/>
<circle cx="810.3" cy="704.3" r="3.75" fill="#e63a35"/>
<circle cx="816.1" cy="699.5" r="3.75" fill="#e63a35"/>
<circle cx="821.8" cy="653.3" r="3.75" fill="#6bb94a"/>
<circle cx="827.5" cy="708.9" r="3.75" fill="#6bb94a"/>
<circle cx="833.2" cy="691.9" r="3.75" fill="#6bb94a"/>
<circle cx="839.0" cy="704.3" r="3.75" fill="#6bb94a"/>
<circle cx="844.7" cy="702.1" r="3.75" fill="#e63a35"/>
<circle cx="850.4" cy="707.0" r="3.75" fill="#e63a35"/>
<circle cx="856.1" cy="696.6" r="3.75" fill="#6bb94a"/>
<circle cx="861.8" cy="701.2" r="3.75" fill="#6bb94a"/>
<circle cx="867.6" cy="696.5" r="3.75" fill="#6bb94a"/>
<circle cx="873.3" cy="690.7" r="3.75" fill="#e63a35"/>
<circle cx="879.0" cy="700.2" r="3.75" fill="#6bb94a"/>
<circle cx="884.7" cy="647.6" r="3.75" fill="#6bb94a"/>
<circle cx="890.5" cy="707.6" r="3.75" fill="#e63a35"/>
<circle cx="896.2" cy="703.8" r="3.75" fill="#e63a35"/>
</g>
<circle cx="167.9" cy="633.9" r="4.6" fill="#e63a35"/><circle cx="167.9" cy="655.2" r="4.6" fill="#6bb94a"/>
<text x="184.3" y="639.6" font-size="16.7">Dead</text><text x="184.3" y="660.9" font-size="16.7">Alive</text>
<text x="538.8" y="781.8" font-size="14.6" text-anchor="middle">Patients (increasing risk socre)</text>
<g shape-rendering="crispEdges">
<rect x="149.3" y="791.2" width="336.86" height="11.4" fill="#f88d87"/>
<rect x="486.16" y="791.2" width="326.34" height="11.4" fill="#12d0d8"/>
</g><g>
<rect x="149.30" y="806.7" width="5.51" height="55.2" fill="#dff0d8"/>
<rect x="154.56" y="806.7" width="5.51" height="55.2" fill="#f5a9a8"/>
<rect x="159.83" y="806.7" width="5.51" height="55.2" fill="#f8c2c1"/>
<rect x="165.09" y="806.7" width="5.51" height="55.2" fill="#ffffff"/>
<rect x="170.35" y="806.7" width="5.51" height="55.2" fill="#fadad9"/>
<rect x="175.62" y="806.7" width="5.51" height="55.2" fill="#f18f8d"/>
<rect x="180.88" y="806.7" width="5.51" height="55.2" fill="#f8c2c1"/>
<rect x="186.14" y="806.7" width="16.04" height="55.2" fill="#f5a9a8"/>
<rect x="201.93" y="806.7" width="5.51" height="55.2" fill="#f8c2c1"/>
<rect x="207.20" y="806.7" width="5.51" height="55.2" fill="#dff0d8"/>
<rect x="212.46" y="806.7" width="5.51" height="55.2" fill="#ed6865"/>
<rect x="217.73" y="806.7" width="5.51" height="55.2" fill="#fadad9"/>
<rect x="222.99" y="806.7" width="5.51" height="55.2" fill="#ef7f7c"/>
<rect x="228.25" y="806.7" width="5.51" height="55.2" fill="#f5a9a8"/>
<rect x="233.52" y="806.7" width="5.51" height="55.2" fill="#f18f8d"/>
<rect x="238.78" y="806.7" width="10.78" height="55.2" fill="#f5a9a8"/>
<rect x="249.31" y="806.7" width="5.51" height="55.2" fill="#f9d1d0"/>
<rect x="254.57" y="806.7" width="5.51" height="55.2" fill="#ffffff"/>
<rect x="259.83" y="806.7" width="5.51" height="55.2" fill="#f6b3b2"/>
<rect x="265.10" y="806.7" width="5.51" height="55.2" fill="#f5a9a8"/>
<rect x="270.36" y="806.7" width="5.51" height="55.2" fill="#f8c2c1"/>
<rect x="275.62" y="806.7" width="5.51" height="55.2" fill="#ffffff"/>
<rect x="280.89" y="806.7" width="5.51" height="55.2" fill="#f18f8d"/>
<rect x="286.15" y="806.7" width="5.51" height="55.2" fill="#f5a9a8"/>
<rect x="291.41" y="806.7" width="5.51" height="55.2" fill="#f18f8d"/>
<rect x="296.68" y="806.7" width="5.51" height="55.2" fill="#fef6f6"/>
<rect x="301.94" y="806.7" width="5.51" height="55.2" fill="#f18f8d"/>
<rect x="307.20" y="806.7" width="5.51" height="55.2" fill="#fef6f6"/>
<rect x="312.47" y="806.7" width="5.51" height="55.2" fill="#f9d1d0"/>
<rect x="317.73" y="806.7" width="5.51" height="55.2" fill="#f5a9a8"/>
<rect x="323.00" y="806.7" width="5.51" height="55.2" fill="#ef7f7c"/>
<rect x="328.26" y="806.7" width="5.51" height="55.2" fill="#e6f3e0"/>
<rect x="333.52" y="806.7" width="5.51" height="55.2" fill="#f9cccb"/>
<rect x="338.79" y="806.7" width="5.51" height="55.2" fill="#f5a9a8"/>
<rect x="344.05" y="806.7" width="5.51" height="55.2" fill="#ed6865"/>
<rect x="349.31" y="806.7" width="5.51" height="55.2" fill="#ee7471"/>
<rect x="354.58" y="806.7" width="10.78" height="55.2" fill="#e84642"/>
<rect x="365.10" y="806.7" width="16.04" height="55.2" fill="#ef7f7c"/>
<rect x="380.89" y="806.7" width="5.51" height="55.2" fill="#fdf3f2"/>
<rect x="386.16" y="806.7" width="5.51" height="55.2" fill="#f6b3b2"/>
<rect x="391.42" y="806.7" width="5.51" height="55.2" fill="#f8c2c1"/>
<rect x="396.68" y="806.7" width="5.51" height="55.2" fill="#ec635f"/>
<rect x="401.95" y="806.7" width="5.51" height="55.2" fill="#f5a9a8"/>
<rect x="407.21" y="806.7" width="5.51" height="55.2" fill="#f9d1d0"/>
<rect x="412.47" y="806.7" width="5.51" height="55.2" fill="#ec635f"/>
<rect x="417.74" y="806.7" width="10.78" height="55.2" fill="#f18f8d"/>
<rect x="428.27" y="806.7" width="5.51" height="55.2" fill="#f9d1d0"/>
<rect x="433.53" y="806.7" width="5.51" height="55.2" fill="#fdf3f2"/>
<rect x="438.79" y="806.7" width="5.51" height="55.2" fill="#f8c2c1"/>
<rect x="444.06" y="806.7" width="10.78" height="55.2" fill="#ef7f7c"/>
<rect x="454.58" y="806.7" width="5.51" height="55.2" fill="#f6b3b2"/>
<rect x="459.85" y="806.7" width="5.51" height="55.2" fill="#f9d1d0"/>
<rect x="465.11" y="806.7" width="5.51" height="55.2" fill="#ef7f7c"/>
<rect x="470.37" y="806.7" width="5.51" height="55.2" fill="#f5a9a8"/>
<rect x="475.64" y="806.7" width="5.51" height="55.2" fill="#ffffff"/>
<rect x="480.90" y="806.7" width="10.78" height="55.2" fill="#f39a98"/>
<rect x="491.43" y="806.7" width="5.51" height="55.2" fill="#fdebea"/>
<rect x="496.69" y="806.7" width="5.51" height="55.2" fill="#f5a9a8"/>
<rect x="501.95" y="806.7" width="5.51" height="55.2" fill="#ea514e"/>
<rect x="507.22" y="806.7" width="5.51" height="55.2" fill="#e84642"/>
<rect x="512.48" y="806.7" width="10.78" height="55.2" fill="#ed6865"/>
<rect x="523.01" y="806.7" width="10.78" height="55.2" fill="#f39a98"/>
<rect x="533.53" y="806.7" width="10.78" height="55.2" fill="#f9cccb"/>
<rect x="544.06" y="806.7" width="5.51" height="55.2" fill="#eb5754"/>
<rect x="549.33" y="806.7" width="5.51" height="55.2" fill="#f18f8d"/>
<rect x="554.59" y="806.7" width="5.51" height="55.2" fill="#ee7471"/>
<rect x="559.85" y="806.7" width="5.51" height="55.2" fill="#f18f8d"/>
<rect x="565.12" y="806.7" width="5.51" height="55.2" fill="#ef7f7c"/>
<rect x="570.38" y="806.7" width="5.51" height="55.2" fill="#fadad9"/>
<rect x="575.64" y="806.7" width="5.51" height="55.2" fill="#ed6865"/>
<rect x="580.91" y="806.7" width="5.51" height="55.2" fill="#ef7f7c"/>
<rect x="586.17" y="806.7" width="10.78" height="55.2" fill="#eb5754"/>
<rect x="596.70" y="806.7" width="5.51" height="55.2" fill="#ed6865"/>
<rect x="601.96" y="806.7" width="5.51" height="55.2" fill="#ec635f"/>
<rect x="607.22" y="806.7" width="10.78" height="55.2" fill="#eb5754"/>
<rect x="617.75" y="806.7" width="5.51" height="55.2" fill="#fadad9"/>
<rect x="623.01" y="806.7" width="10.78" height="55.2" fill="#f39a98"/>
<rect x="633.54" y="806.7" width="10.78" height="55.2" fill="#f6b3b2"/>
<rect x="644.07" y="806.7" width="5.51" height="55.2" fill="#eb5754"/>
<rect x="649.33" y="806.7" width="5.51" height="55.2" fill="#ef7f7c"/>
<rect x="654.60" y="806.7" width="5.51" height="55.2" fill="#f6b3b2"/>
<rect x="659.86" y="806.7" width="5.51" height="55.2" fill="#ee7471"/>
<rect x="665.12" y="806.7" width="5.51" height="55.2" fill="#eb5754"/>
<rect x="670.39" y="806.7" width="5.51" height="55.2" fill="#f5a9a8"/>
<rect x="675.65" y="806.7" width="5.51" height="55.2" fill="#f18f8d"/>
<rect x="680.91" y="806.7" width="5.51" height="55.2" fill="#f8c2c1"/>
<rect x="686.18" y="806.7" width="5.51" height="55.2" fill="#f18f8d"/>
<rect x="691.44" y="806.7" width="5.51" height="55.2" fill="#ea514e"/>
<rect x="696.70" y="806.7" width="5.51" height="55.2" fill="#f18f8d"/>
<rect x="701.97" y="806.7" width="5.51" height="55.2" fill="#e73a36"/>
<rect x="707.23" y="806.7" width="5.51" height="55.2" fill="#ea514e"/>
<rect x="712.49" y="806.7" width="5.51" height="55.2" fill="#f18f8d"/>
<rect x="717.76" y="806.7" width="5.51" height="55.2" fill="#ef7f7c"/>
<rect x="723.02" y="806.7" width="5.51" height="55.2" fill="#fefaf9"/>
<rect x="728.28" y="806.7" width="5.51" height="55.2" fill="#ed6865"/>
<rect x="733.55" y="806.7" width="5.51" height="55.2" fill="#f9d1d0"/>
<rect x="738.81" y="806.7" width="5.51" height="55.2" fill="#edf6e9"/>
<rect x="744.07" y="806.7" width="5.51" height="55.2" fill="#ef7f7c"/>
<rect x="749.34" y="806.7" width="5.51" height="55.2" fill="#ee7471"/>
<rect x="754.60" y="806.7" width="5.51" height="55.2" fill="#e73a36"/>
<rect x="759.87" y="806.7" width="5.51" height="55.2" fill="#fdefee"/>
<rect x="765.13" y="806.7" width="5.51" height="55.2" fill="#f39f9d"/>
<rect x="770.39" y="806.7" width="5.51" height="55.2" fill="#f5a9a8"/>
<rect x="775.66" y="806.7" width="5.51" height="55.2" fill="#eb5754"/>
<rect x="780.92" y="806.7" width="5.51" height="55.2" fill="#ee7471"/>
<rect x="786.18" y="806.7" width="5.51" height="55.2" fill="#f6b3b2"/>
<rect x="791.45" y="806.7" width="5.51" height="55.2" fill="#f18f8d"/>
<rect x="796.71" y="806.7" width="10.78" height="55.2" fill="#eb5754"/>
<rect x="807.24" y="806.7" width="5.51" height="55.2" fill="#f9d1d0"/>
<rect x="149.30" y="861.9" width="5.51" height="55.2" fill="#b3dba1"/>
<rect x="154.56" y="861.9" width="10.78" height="55.2" fill="#8cc971"/>
<rect x="165.09" y="861.9" width="5.51" height="55.2" fill="#94cd7b"/>
<rect x="170.35" y="861.9" width="5.51" height="55.2" fill="#80c363"/>
<rect x="175.62" y="861.9" width="5.51" height="55.2" fill="#9cd085"/>
<rect x="180.88" y="861.9" width="5.51" height="55.2" fill="#94cd7b"/>
<rect x="186.14" y="861.9" width="5.51" height="55.2" fill="#afd99d"/>
<rect x="191.41" y="861.9" width="5.51" height="55.2" fill="#a7d693"/>
<rect x="196.67" y="861.9" width="5.51" height="55.2" fill="#94cd7b"/>
<rect x="201.93" y="861.9" width="5.51" height="55.2" fill="#74be54"/>
<rect x="207.20" y="861.9" width="5.51" height="55.2" fill="#88c76d"/>
<rect x="212.46" y="861.9" width="5.51" height="55.2" fill="#9cd085"/>
<rect x="217.73" y="861.9" width="5.51" height="55.2" fill="#94cd7b"/>
<rect x="222.99" y="861.9" width="5.51" height="55.2" fill="#80c363"/>
<rect x="228.25" y="861.9" width="5.51" height="55.2" fill="#b3dba1"/>
<rect x="233.52" y="861.9" width="5.51" height="55.2" fill="#9cd085"/>
<rect x="238.78" y="861.9" width="10.78" height="55.2" fill="#88c76d"/>
<rect x="249.31" y="861.9" width="5.51" height="55.2" fill="#a7d693"/>
<rect x="254.57" y="861.9" width="5.51" height="55.2" fill="#c9e6bd"/>
<rect x="259.83" y="861.9" width="5.51" height="55.2" fill="#9cd085"/>
<rect x="265.10" y="861.9" width="5.51" height="55.2" fill="#74be54"/>
<rect x="270.36" y="861.9" width="5.51" height="55.2" fill="#80c363"/>
<rect x="275.62" y="861.9" width="5.51" height="55.2" fill="#badfab"/>
<rect x="280.89" y="861.9" width="21.30" height="55.2" fill="#80c363"/>
<rect x="301.94" y="861.9" width="5.51" height="55.2" fill="#9cd085"/>
<rect x="307.20" y="861.9" width="10.78" height="55.2" fill="#a7d693"/>
<rect x="317.73" y="861.9" width="5.51" height="55.2" fill="#8cc971"/>
<rect x="323.00" y="861.9" width="5.51" height="55.2" fill="#94cd7b"/>
<rect x="328.26" y="861.9" width="5.51" height="55.2" fill="#9cd085"/>
<rect x="333.52" y="861.9" width="5.51" height="55.2" fill="#a7d693"/>
<rect x="338.79" y="861.9" width="5.51" height="55.2" fill="#c2e2b4"/>
<rect x="344.05" y="861.9" width="5.51" height="55.2" fill="#74be54"/>
<rect x="349.31" y="861.9" width="5.51" height="55.2" fill="#88c76d"/>
<rect x="354.58" y="861.9" width="5.51" height="55.2" fill="#74be54"/>
<rect x="359.84" y="861.9" width="5.51" height="55.2" fill="#8cc971"/>
<rect x="365.10" y="861.9" width="5.51" height="55.2" fill="#a3d48e"/>
<rect x="370.37" y="861.9" width="5.51" height="55.2" fill="#9cd085"/>
<rect x="375.63" y="861.9" width="5.51" height="55.2" fill="#94cd7b"/>
<rect x="380.89" y="861.9" width="5.51" height="55.2" fill="#afd99d"/>
<rect x="386.16" y="861.9" width="5.51" height="55.2" fill="#c2e2b4"/>
<rect x="391.42" y="861.9" width="5.51" height="55.2" fill="#88c76d"/>
<rect x="396.68" y="861.9" width="10.78" height="55.2" fill="#94cd7b"/>
<rect x="407.21" y="861.9" width="5.51" height="55.2" fill="#badfab"/>
<rect x="412.47" y="861.9" width="10.78" height="55.2" fill="#b3dba1"/>
<rect x="423.00" y="861.9" width="5.51" height="55.2" fill="#74be54"/>
<rect x="428.27" y="861.9" width="5.51" height="55.2" fill="#80c363"/>
<rect x="433.53" y="861.9" width="5.51" height="55.2" fill="#8cc971"/>
<rect x="438.79" y="861.9" width="5.51" height="55.2" fill="#6cba4a"/>
<rect x="444.06" y="861.9" width="5.51" height="55.2" fill="#a7d693"/>
<rect x="449.32" y="861.9" width="5.51" height="55.2" fill="#7cc25e"/>
<rect x="454.58" y="861.9" width="5.51" height="55.2" fill="#9cd085"/>
<rect x="459.85" y="861.9" width="5.51" height="55.2" fill="#74be54"/>
<rect x="465.11" y="861.9" width="5.51" height="55.2" fill="#afd99d"/>
<rect x="470.37" y="861.9" width="5.51" height="55.2" fill="#a7d693"/>
<rect x="475.64" y="861.9" width="5.51" height="55.2" fill="#94cd7b"/>
<rect x="480.90" y="861.9" width="5.51" height="55.2" fill="#a7d693"/>
<rect x="486.16" y="861.9" width="5.51" height="55.2" fill="#b3dba1"/>
<rect x="491.43" y="861.9" width="5.51" height="55.2" fill="#80c363"/>
<rect x="496.69" y="861.9" width="5.51" height="55.2" fill="#a7d693"/>
<rect x="501.95" y="861.9" width="5.51" height="55.2" fill="#b3dba1"/>
<rect x="507.22" y="861.9" width="5.51" height="55.2" fill="#74be54"/>
<rect x="512.48" y="861.9" width="5.51" height="55.2" fill="#94cd7b"/>
<rect x="517.74" y="861.9" width="5.51" height="55.2" fill="#badfab"/>
<rect x="523.01" y="861.9" width="5.51" height="55.2" fill="#b3dba1"/>
<rect x="528.27" y="861.9" width="10.78" height="55.2" fill="#dff0d8"/>
<rect x="538.80" y="861.9" width="5.51" height="55.2" fill="#badfab"/>
<rect x="544.06" y="861.9" width="5.51" height="55.2" fill="#7cc25e"/>
<rect x="549.33" y="861.9" width="5.51" height="55.2" fill="#b3dba1"/>
<rect x="554.59" y="861.9" width="5.51" height="55.2" fill="#80c363"/>
<rect x="559.85" y="861.9" width="5.51" height="55.2" fill="#badfab"/>
<rect x="565.12" y="861.9" width="5.51" height="55.2" fill="#f6fbf5"/>
<rect x="570.38" y="861.9" width="5.51" height="55.2" fill="#c2e2b4"/>
<rect x="575.64" y="861.9" width="5.51" height="55.2" fill="#afd99d"/>
<rect x="580.91" y="861.9" width="5.51" height="55.2" fill="#9cd085"/>
<rect x="586.17" y="861.9" width="5.51" height="55.2" fill="#afd99d"/>
<rect x="591.43" y="861.9" width="5.51" height="55.2" fill="#7cc25e"/>
<rect x="596.70" y="861.9" width="5.51" height="55.2" fill="#cde8c1"/>
<rect x="601.96" y="861.9" width="5.51" height="55.2" fill="#9cd085"/>
<rect x="607.22" y="861.9" width="5.51" height="55.2" fill="#8cc971"/>
<rect x="612.49" y="861.9" width="5.51" height="55.2" fill="#a7d693"/>
<rect x="617.75" y="861.9" width="5.51" height="55.2" fill="#9cd085"/>
<rect x="623.01" y="861.9" width="5.51" height="55.2" fill="#d8edcf"/>
<rect x="628.28" y="861.9" width="5.51" height="55.2" fill="#8cc971"/>
<rect x="633.54" y="861.9" width="5.51" height="55.2" fill="#cde8c1"/>
<rect x="638.80" y="861.9" width="5.51" height="55.2" fill="#c2e2b4"/>
<rect x="644.07" y="861.9" width="5.51" height="55.2" fill="#80c363"/>
<rect x="649.33" y="861.9" width="5.51" height="55.2" fill="#a7d693"/>
<rect x="654.60" y="861.9" width="5.51" height="55.2" fill="#edf6e9"/>
<rect x="659.86" y="861.9" width="5.51" height="55.2" fill="#cde8c1"/>
<rect x="665.12" y="861.9" width="5.51" height="55.2" fill="#dff0d8"/>
<rect x="670.39" y="861.9" width="5.51" height="55.2" fill="#badfab"/>
<rect x="675.65" y="861.9" width="5.51" height="55.2" fill="#b3dba1"/>
<rect x="680.91" y="861.9" width="5.51" height="55.2" fill="#c2e2b4"/>
<rect x="686.18" y="861.9" width="5.51" height="55.2" fill="#dff0d8"/>
<rect x="691.44" y="861.9" width="10.78" height="55.2" fill="#8cc971"/>
<rect x="701.97" y="861.9" width="5.51" height="55.2" fill="#cde8c1"/>
<rect x="707.23" y="861.9" width="5.51" height="55.2" fill="#a7d693"/>
<rect x="712.49" y="861.9" width="5.51" height="55.2" fill="#cde8c1"/>
<rect x="717.76" y="861.9" width="5.51" height="55.2" fill="#dff0d8"/>
<rect x="723.02" y="861.9" width="5.51" height="55.2" fill="#edf6e9"/>
<rect x="728.28" y="861.9" width="5.51" height="55.2" fill="#f3faf1"/>
<rect x="733.55" y="861.9" width="5.51" height="55.2" fill="#8cc971"/>
<rect x="738.81" y="861.9" width="5.51" height="55.2" fill="#fdebea"/>
<rect x="744.07" y="861.9" width="5.51" height="55.2" fill="#dff0d8"/>
<rect x="749.34" y="861.9" width="5.51" height="55.2" fill="#d4ebca"/>
<rect x="754.60" y="861.9" width="5.51" height="55.2" fill="#74be54"/>
<rect x="759.87" y="861.9" width="5.51" height="55.2" fill="#badfab"/>
<rect x="765.13" y="861.9" width="5.51" height="55.2" fill="#f3faf1"/>
<rect x="770.39" y="861.9" width="5.51" height="55.2" fill="#badfab"/>
<rect x="775.66" y="861.9" width="5.51" height="55.2" fill="#a7d693"/>
<rect x="780.92" y="861.9" width="5.51" height="55.2" fill="#dff0d8"/>
<rect x="786.18" y="861.9" width="10.78" height="55.2" fill="#e6f3e0"/>
<rect x="796.71" y="861.9" width="5.51" height="55.2" fill="#f6fbf5"/>
<rect x="801.97" y="861.9" width="5.51" height="55.2" fill="#f8c2c1"/>
<rect x="807.24" y="861.9" width="5.51" height="55.2" fill="#e73a36"/>
<rect x="149.30" y="917.1" width="5.51" height="55.3" fill="#fafcf8"/>
<rect x="154.56" y="917.1" width="5.51" height="55.3" fill="#f8c2c1"/>
<rect x="159.83" y="917.1" width="5.51" height="55.3" fill="#fdebea"/>
<rect x="165.09" y="917.1" width="5.51" height="55.3" fill="#f6b3b2"/>
<rect x="170.35" y="917.1" width="5.51" height="55.3" fill="#f18a87"/>
<rect x="175.62" y="917.1" width="5.51" height="55.3" fill="#fce7e6"/>
<rect x="180.88" y="917.1" width="5.51" height="55.3" fill="#f39a98"/>
<rect x="186.14" y="917.1" width="5.51" height="55.3" fill="#ffffff"/>
<rect x="191.41" y="917.1" width="5.51" height="55.3" fill="#f8c2c1"/>
<rect x="196.67" y="917.1" width="5.51" height="55.3" fill="#ffffff"/>
<rect x="201.93" y="917.1" width="5.51" height="55.3" fill="#f9d1d0"/>
<rect x="207.20" y="917.1" width="5.51" height="55.3" fill="#6cba4a"/>
<rect x="212.46" y="917.1" width="5.51" height="55.3" fill="#fce2e2"/>
<rect x="217.73" y="917.1" width="21.30" height="55.3" fill="#fffdfd"/>
<rect x="238.78" y="917.1" width="5.51" height="55.3" fill="#d8edcf"/>
<rect x="244.04" y="917.1" width="5.51" height="55.3" fill="#fadad9"/>
<rect x="249.31" y="917.1" width="5.51" height="55.3" fill="#ffffff"/>
<rect x="254.57" y="917.1" width="5.51" height="55.3" fill="#cde8c1"/>
<rect x="259.83" y="917.1" width="5.51" height="55.3" fill="#fce7e6"/>
<rect x="265.10" y="917.1" width="5.51" height="55.3" fill="#fdebea"/>
<rect x="270.36" y="917.1" width="5.51" height="55.3" fill="#dff0d8"/>
<rect x="275.62" y="917.1" width="5.51" height="55.3" fill="#cde8c1"/>
<rect x="280.89" y="917.1" width="5.51" height="55.3" fill="#f0f8ed"/>
<rect x="286.15" y="917.1" width="5.51" height="55.3" fill="#ffffff"/>
<rect x="291.41" y="917.1" width="5.51" height="55.3" fill="#fdefee"/>
<rect x="296.68" y="917.1" width="10.78" height="55.3" fill="#fbdedd"/>
<rect x="307.20" y="917.1" width="5.51" height="55.3" fill="#74be54"/>
<rect x="312.47" y="917.1" width="5.51" height="55.3" fill="#f6b3b2"/>
<rect x="317.73" y="917.1" width="5.51" height="55.3" fill="#e6f3e0"/>
<rect x="323.00" y="917.1" width="5.51" height="55.3" fill="#fef6f6"/>
<rect x="328.26" y="917.1" width="5.51" height="55.3" fill="#f39a98"/>
<rect x="333.52" y="917.1" width="5.51" height="55.3" fill="#a7d693"/>
<rect x="338.79" y="917.1" width="5.51" height="55.3" fill="#fadad9"/>
<rect x="344.05" y="917.1" width="5.51" height="55.3" fill="#fef6f6"/>
<rect x="349.31" y="917.1" width="10.78" height="55.3" fill="#e6f3e0"/>
<rect x="359.84" y="917.1" width="5.51" height="55.3" fill="#ffffff"/>
<rect x="365.10" y="917.1" width="5.51" height="55.3" fill="#edf6e9"/>
<rect x="370.37" y="917.1" width="5.51" height="55.3" fill="#fadad9"/>
<rect x="375.63" y="917.1" width="5.51" height="55.3" fill="#f0f8ed"/>
<rect x="380.89" y="917.1" width="5.51" height="55.3" fill="#c2e2b4"/>
<rect x="386.16" y="917.1" width="5.51" height="55.3" fill="#ffffff"/>
<rect x="391.42" y="917.1" width="5.51" height="55.3" fill="#f6b3b2"/>
<rect x="396.68" y="917.1" width="5.51" height="55.3" fill="#fdebea"/>
<rect x="401.95" y="917.1" width="5.51" height="55.3" fill="#fbdedd"/>
<rect x="407.21" y="917.1" width="5.51" height="55.3" fill="#cde8c1"/>
<rect x="412.47" y="917.1" width="5.51" height="55.3" fill="#fce2e2"/>
<rect x="417.74" y="917.1" width="5.51" height="55.3" fill="#fce7e6"/>
<rect x="423.00" y="917.1" width="5.51" height="55.3" fill="#fbdedd"/>
<rect x="428.27" y="917.1" width="5.51" height="55.3" fill="#fce7e6"/>
<rect x="433.53" y="917.1" width="5.51" height="55.3" fill="#80c363"/>
<rect x="438.79" y="917.1" width="5.51" height="55.3" fill="#a7d693"/>
<rect x="444.06" y="917.1" width="5.51" height="55.3" fill="#f6b3b2"/>
<rect x="449.32" y="917.1" width="5.51" height="55.3" fill="#dff0d8"/>
<rect x="454.58" y="917.1" width="5.51" height="55.3" fill="#badfab"/>
<rect x="459.85" y="917.1" width="5.51" height="55.3" fill="#a7d693"/>
<rect x="465.11" y="917.1" width="5.51" height="55.3" fill="#fef6f6"/>
<rect x="470.37" y="917.1" width="5.51" height="55.3" fill="#e6f3e0"/>
<rect x="475.64" y="917.1" width="5.51" height="55.3" fill="#ffffff"/>
<rect x="480.90" y="917.1" width="10.78" height="55.3" fill="#7cc25e"/>
<rect x="491.43" y="917.1" width="5.51" height="55.3" fill="#fafcf8"/>
<rect x="496.69" y="917.1" width="5.51" height="55.3" fill="#94cd7b"/>
<rect x="501.95" y="917.1" width="5.51" height="55.3" fill="#ffffff"/>
<rect x="507.22" y="917.1" width="5.51" height="55.3" fill="#afd99d"/>
<rect x="512.48" y="917.1" width="10.78" height="55.3" fill="#fbdedd"/>
<rect x="523.01" y="917.1" width="5.51" height="55.3" fill="#c2e2b4"/>
<rect x="528.27" y="917.1" width="5.51" height="55.3" fill="#fef6f6"/>
<rect x="533.53" y="917.1" width="5.51" height="55.3" fill="#80c363"/>
<rect x="538.80" y="917.1" width="5.51" height="55.3" fill="#d4ebca"/>
<rect x="544.06" y="917.1" width="5.51" height="55.3" fill="#88c76d"/>
<rect x="549.33" y="917.1" width="5.51" height="55.3" fill="#dff0d8"/>
<rect x="554.59" y="917.1" width="5.51" height="55.3" fill="#d4ebca"/>
<rect x="559.85" y="917.1" width="5.51" height="55.3" fill="#f6fbf5"/>
<rect x="565.12" y="917.1" width="5.51" height="55.3" fill="#fafcf8"/>
<rect x="570.38" y="917.1" width="5.51" height="55.3" fill="#cde8c1"/>
<rect x="575.64" y="917.1" width="5.51" height="55.3" fill="#edf6e9"/>
<rect x="580.91" y="917.1" width="5.51" height="55.3" fill="#e6f3e0"/>
<rect x="586.17" y="917.1" width="5.51" height="55.3" fill="#cde8c1"/>
<rect x="591.43" y="917.1" width="5.51" height="55.3" fill="#88c76d"/>
<rect x="596.70" y="917.1" width="5.51" height="55.3" fill="#f9d1d0"/>
<rect x="601.96" y="917.1" width="5.51" height="55.3" fill="#8cc971"/>
<rect x="607.22" y="917.1" width="5.51" height="55.3" fill="#9cd085"/>
<rect x="612.49" y="917.1" width="5.51" height="55.3" fill="#badfab"/>
<rect x="617.75" y="917.1" width="5.51" height="55.3" fill="#a7d693"/>
<rect x="623.01" y="917.1" width="5.51" height="55.3" fill="#94cd7b"/>
<rect x="628.28" y="917.1" width="5.51" height="55.3" fill="#ffffff"/>
<rect x="633.54" y="917.1" width="10.78" height="55.3" fill="#a7d693"/>
<rect x="644.07" y="917.1" width="5.51" height="55.3" fill="#b3dba1"/>
<rect x="649.33" y="917.1" width="5.51" height="55.3" fill="#cde8c1"/>
<rect x="654.60" y="917.1" width="5.51" height="55.3" fill="#badfab"/>
<rect x="659.86" y="917.1" width="5.51" height="55.3" fill="#fdf3f2"/>
<rect x="665.12" y="917.1" width="5.51" height="55.3" fill="#ee7471"/>
<rect x="670.39" y="917.1" width="5.51" height="55.3" fill="#badfab"/>
<rect x="675.65" y="917.1" width="5.51" height="55.3" fill="#94cd7b"/>
<rect x="680.91" y="917.1" width="5.51" height="55.3" fill="#88c76d"/>
<rect x="686.18" y="917.1" width="5.51" height="55.3" fill="#fafcf8"/>
<rect x="691.44" y="917.1" width="5.51" height="55.3" fill="#88c76d"/>
<rect x="696.70" y="917.1" width="5.51" height="55.3" fill="#94cd7b"/>
<rect x="701.97" y="917.1" width="5.51" height="55.3" fill="#fce7e6"/>
<rect x="707.23" y="917.1" width="5.51" height="55.3" fill="#cde8c1"/>
<rect x="712.49" y="917.1" width="5.51" height="55.3" fill="#badfab"/>
<rect x="717.76" y="917.1" width="5.51" height="55.3" fill="#fafcf8"/>
<rect x="723.02" y="917.1" width="5.51" height="55.3" fill="#fdebea"/>
<rect x="728.28" y="917.1" width="5.51" height="55.3" fill="#fafcf8"/>
<rect x="733.55" y="917.1" width="5.51" height="55.3" fill="#f9d1d0"/>
<rect x="738.81" y="917.1" width="5.51" height="55.3" fill="#94cd7b"/>
<rect x="744.07" y="917.1" width="5.51" height="55.3" fill="#a7d693"/>
<rect x="749.34" y="917.1" width="5.51" height="55.3" fill="#80c363"/>
<rect x="754.60" y="917.1" width="5.51" height="55.3" fill="#94cd7b"/>
<rect x="759.87" y="917.1" width="5.51" height="55.3" fill="#badfab"/>
<rect x="765.13" y="917.1" width="5.51" height="55.3" fill="#88c76d"/>
<rect x="770.39" y="917.1" width="5.51" height="55.3" fill="#d8edcf"/>
<rect x="775.66" y="917.1" width="5.51" height="55.3" fill="#a7d693"/>
<rect x="780.92" y="917.1" width="5.51" height="55.3" fill="#94cd7b"/>
<rect x="786.18" y="917.1" width="5.51" height="55.3" fill="#9cd085"/>
<rect x="791.45" y="917.1" width="5.51" height="55.3" fill="#cde8c1"/>
<rect x="796.71" y="917.1" width="16.04" height="55.3" fill="#7cc25e"/>
<rect x="149.30" y="972.4" width="5.51" height="55.3" fill="#d8edcf"/>
<rect x="154.56" y="972.4" width="5.51" height="55.3" fill="#cde8c1"/>
<rect x="159.83" y="972.4" width="5.51" height="55.3" fill="#dff0d8"/>
<rect x="165.09" y="972.4" width="10.78" height="55.3" fill="#fffdfd"/>
<rect x="175.62" y="972.4" width="5.51" height="55.3" fill="#d8edcf"/>
<rect x="180.88" y="972.4" width="5.51" height="55.3" fill="#f0f8ed"/>
<rect x="186.14" y="972.4" width="5.51" height="55.3" fill="#cde8c1"/>
<rect x="191.41" y="972.4" width="5.51" height="55.3" fill="#f3faf1"/>
<rect x="196.67" y="972.4" width="5.51" height="55.3" fill="#e6f3e0"/>
<rect x="201.93" y="972.4" width="5.51" height="55.3" fill="#fef6f6"/>
<rect x="207.20" y="972.4" width="10.78" height="55.3" fill="#d8edcf"/>
<rect x="217.73" y="972.4" width="5.51" height="55.3" fill="#fafcf8"/>
<rect x="222.99" y="972.4" width="5.51" height="55.3" fill="#f0f8ed"/>
<rect x="228.25" y="972.4" width="10.78" height="55.3" fill="#e6f3e0"/>
<rect x="238.78" y="972.4" width="5.51" height="55.3" fill="#d4ebca"/>
<rect x="244.04" y="972.4" width="5.51" height="55.3" fill="#ffffff"/>
<rect x="249.31" y="972.4" width="5.51" height="55.3" fill="#f3faf1"/>
<rect x="254.57" y="972.4" width="5.51" height="55.3" fill="#dff0d8"/>
<rect x="259.83" y="972.4" width="5.51" height="55.3" fill="#f6fbf5"/>
<rect x="265.10" y="972.4" width="10.78" height="55.3" fill="#d4ebca"/>
<rect x="275.62" y="972.4" width="5.51" height="55.3" fill="#d8edcf"/>
<rect x="280.89" y="972.4" width="5.51" height="55.3" fill="#edf6e9"/>
<rect x="286.15" y="972.4" width="5.51" height="55.3" fill="#fafcf8"/>
<rect x="291.41" y="972.4" width="5.51" height="55.3" fill="#fffdfd"/>
<rect x="296.68" y="972.4" width="5.51" height="55.3" fill="#fce7e6"/>
<rect x="301.94" y="972.4" width="5.51" height="55.3" fill="#ffffff"/>
<rect x="307.20" y="972.4" width="5.51" height="55.3" fill="#dff0d8"/>
<rect x="312.47" y="972.4" width="5.51" height="55.3" fill="#e6f3e0"/>
<rect x="317.73" y="972.4" width="5.51" height="55.3" fill="#ffffff"/>
<rect x="323.00" y="972.4" width="5.51" height="55.3" fill="#f0f8ed"/>
<rect x="328.26" y="972.4" width="5.51" height="55.3" fill="#ffffff"/>
<rect x="333.52" y="972.4" width="5.51" height="55.3" fill="#d8edcf"/>
<rect x="338.79" y="972.4" width="5.51" height="55.3" fill="#f0f8ed"/>
<rect x="344.05" y="972.4" width="5.51" height="55.3" fill="#ffffff"/>
<rect x="349.31" y="972.4" width="5.51" height="55.3" fill="#e3f2dc"/>
<rect x="354.58" y="972.4" width="10.78" height="55.3" fill="#dff0d8"/>
<rect x="365.10" y="972.4" width="5.51" height="55.3" fill="#d8edcf"/>
<rect x="370.37" y="972.4" width="5.51" height="55.3" fill="#ffffff"/>
<rect x="375.63" y="972.4" width="5.51" height="55.3" fill="#d4ebca"/>
<rect x="380.89" y="972.4" width="10.78" height="55.3" fill="#f3faf1"/>
<rect x="391.42" y="972.4" width="5.51" height="55.3" fill="#f8c2c1"/>
<rect x="396.68" y="972.4" width="5.51" height="55.3" fill="#f6fbf5"/>
<rect x="401.95" y="972.4" width="5.51" height="55.3" fill="#fce2e2"/>
<rect x="407.21" y="972.4" width="5.51" height="55.3" fill="#e3f2dc"/>
<rect x="412.47" y="972.4" width="5.51" height="55.3" fill="#edf6e9"/>
<rect x="417.74" y="972.4" width="5.51" height="55.3" fill="#fffdfd"/>
<rect x="423.00" y="972.4" width="10.78" height="55.3" fill="#fef6f6"/>
<rect x="433.53" y="972.4" width="5.51" height="55.3" fill="#b3dba1"/>
<rect x="438.79" y="972.4" width="5.51" height="55.3" fill="#c2e2b4"/>
<rect x="444.06" y="972.4" width="5.51" height="55.3" fill="#ffffff"/>
<rect x="449.32" y="972.4" width="5.51" height="55.3" fill="#e6f3e0"/>
<rect x="454.58" y="972.4" width="5.51" height="55.3" fill="#edf6e9"/>
<rect x="459.85" y="972.4" width="5.51" height="55.3" fill="#cde8c1"/>
<rect x="465.11" y="972.4" width="5.51" height="55.3" fill="#e6f3e0"/>
<rect x="470.37" y="972.4" width="5.51" height="55.3" fill="#fafcf8"/>
<rect x="475.64" y="972.4" width="5.51" height="55.3" fill="#fefaf9"/>
<rect x="480.90" y="972.4" width="5.51" height="55.3" fill="#dff0d8"/>
<rect x="486.16" y="972.4" width="5.51" height="55.3" fill="#d8edcf"/>
<rect x="491.43" y="972.4" width="5.51" height="55.3" fill="#fef6f6"/>
<rect x="496.69" y="972.4" width="5.51" height="55.3" fill="#d4ebca"/>
<rect x="501.95" y="972.4" width="5.51" height="55.3" fill="#fafcf8"/>
<rect x="507.22" y="972.4" width="5.51" height="55.3" fill="#e9f5e4"/>
<rect x="512.48" y="972.4" width="5.51" height="55.3" fill="#fafcf8"/>
<rect x="517.74" y="972.4" width="5.51" height="55.3" fill="#f9cccb"/>
<rect x="523.01" y="972.4" width="5.51" height="55.3" fill="#f0f8ed"/>
<rect x="528.27" y="972.4" width="5.51" height="55.3" fill="#fffdfd"/>
<rect x="533.53" y="972.4" width="5.51" height="55.3" fill="#ffffff"/>
<rect x="538.80" y="972.4" width="5.51" height="55.3" fill="#f9d1d0"/>
<rect x="544.06" y="972.4" width="5.51" height="55.3" fill="#d8edcf"/>
<rect x="549.33" y="972.4" width="10.78" height="55.3" fill="#e3f2dc"/>
<rect x="559.85" y="972.4" width="5.51" height="55.3" fill="#fce7e6"/>
<rect x="565.12" y="972.4" width="5.51" height="55.3" fill="#fafcf8"/>
<rect x="570.38" y="972.4" width="5.51" height="55.3" fill="#fbdedd"/>
<rect x="575.64" y="972.4" width="5.51" height="55.3" fill="#fefaf9"/>
<rect x="580.91" y="972.4" width="5.51" height="55.3" fill="#fce7e6"/>
<rect x="586.17" y="972.4" width="5.51" height="55.3" fill="#fdefee"/>
<rect x="591.43" y="972.4" width="5.51" height="55.3" fill="#d4ebca"/>
<rect x="596.70" y="972.4" width="5.51" height="55.3" fill="#ffffff"/>
<rect x="601.96" y="972.4" width="5.51" height="55.3" fill="#e6f3e0"/>
<rect x="607.22" y="972.4" width="5.51" height="55.3" fill="#edf6e9"/>
<rect x="612.49" y="972.4" width="5.51" height="55.3" fill="#fcfefc"/>
<rect x="617.75" y="972.4" width="5.51" height="55.3" fill="#edf6e9"/>
<rect x="623.01" y="972.4" width="5.51" height="55.3" fill="#f0f8ed"/>
<rect x="628.28" y="972.4" width="5.51" height="55.3" fill="#fce7e6"/>
<rect x="633.54" y="972.4" width="5.51" height="55.3" fill="#e6f3e0"/>
<rect x="638.80" y="972.4" width="10.78" height="55.3" fill="#ffffff"/>
<rect x="649.33" y="972.4" width="5.51" height="55.3" fill="#e6f3e0"/>
<rect x="654.60" y="972.4" width="5.51" height="55.3" fill="#f3faf1"/>
<rect x="659.86" y="972.4" width="10.78" height="55.3" fill="#fdebea"/>
<rect x="670.39" y="972.4" width="10.78" height="55.3" fill="#ffffff"/>
<rect x="680.91" y="972.4" width="5.51" height="55.3" fill="#e9f5e4"/>
<rect x="686.18" y="972.4" width="5.51" height="55.3" fill="#fdefee"/>
<rect x="691.44" y="972.4" width="5.51" height="55.3" fill="#fffdfd"/>
<rect x="696.70" y="972.4" width="5.51" height="55.3" fill="#f0f8ed"/>
<rect x="701.97" y="972.4" width="5.51" height="55.3" fill="#fce2e2"/>
<rect x="707.23" y="972.4" width="5.51" height="55.3" fill="#e9f5e4"/>
<rect x="712.49" y="972.4" width="5.51" height="55.3" fill="#ffffff"/>
<rect x="717.76" y="972.4" width="5.51" height="55.3" fill="#fdebea"/>
<rect x="723.02" y="972.4" width="5.51" height="55.3" fill="#f9d1d0"/>
<rect x="728.28" y="972.4" width="5.51" height="55.3" fill="#f6fbf5"/>
<rect x="733.55" y="972.4" width="5.51" height="55.3" fill="#f8c2c1"/>
<rect x="738.81" y="972.4" width="5.51" height="55.3" fill="#fce7e6"/>
<rect x="744.07" y="972.4" width="10.78" height="55.3" fill="#fafcf8"/>
<rect x="754.60" y="972.4" width="5.51" height="55.3" fill="#dff0d8"/>
<rect x="759.87" y="972.4" width="5.51" height="55.3" fill="#f3faf1"/>
<rect x="765.13" y="972.4" width="5.51" height="55.3" fill="#d4ebca"/>
<rect x="770.39" y="972.4" width="5.51" height="55.3" fill="#fef6f6"/>
<rect x="775.66" y="972.4" width="5.51" height="55.3" fill="#fdefee"/>
<rect x="780.92" y="972.4" width="5.51" height="55.3" fill="#ffffff"/>
<rect x="786.18" y="972.4" width="5.51" height="55.3" fill="#fafcf8"/>
<rect x="791.45" y="972.4" width="10.78" height="55.3" fill="#fce7e6"/>
<rect x="801.97" y="972.4" width="5.51" height="55.3" fill="#fcfefc"/>
<rect x="807.24" y="972.4" width="5.51" height="55.3" fill="#fafcf8"/>
<rect x="149.30" y="1027.7" width="5.51" height="55.7" fill="#b3dba1"/>
<rect x="154.56" y="1027.7" width="5.51" height="55.7" fill="#c2e2b4"/>
<rect x="159.83" y="1027.7" width="10.78" height="55.7" fill="#a7d693"/>
<rect x="170.35" y="1027.7" width="5.51" height="55.7" fill="#c2e2b4"/>
<rect x="175.62" y="1027.7" width="5.51" height="55.7" fill="#a7d693"/>
<rect x="180.88" y="1027.7" width="5.51" height="55.7" fill="#d8edcf"/>
<rect x="186.14" y="1027.7" width="5.51" height="55.7" fill="#badfab"/>
<rect x="191.41" y="1027.7" width="5.51" height="55.7" fill="#a3d48e"/>
<rect x="196.67" y="1027.7" width="5.51" height="55.7" fill="#b3dba1"/>
<rect x="201.93" y="1027.7" width="5.51" height="55.7" fill="#c9e6bd"/>
<rect x="207.20" y="1027.7" width="5.51" height="55.7" fill="#badfab"/>
<rect x="212.46" y="1027.7" width="5.51" height="55.7" fill="#a3d48e"/>
<rect x="217.73" y="1027.7" width="5.51" height="55.7" fill="#badfab"/>
<rect x="222.99" y="1027.7" width="16.04" height="55.7" fill="#9cd085"/>
<rect x="238.78" y="1027.7" width="5.51" height="55.7" fill="#dff0d8"/>
<rect x="244.04" y="1027.7" width="5.51" height="55.7" fill="#cde8c1"/>
<rect x="249.31" y="1027.7" width="16.04" height="55.7" fill="#badfab"/>
<rect x="265.10" y="1027.7" width="5.51" height="55.7" fill="#fdefee"/>
<rect x="270.36" y="1027.7" width="5.51" height="55.7" fill="#e6f3e0"/>
<rect x="275.62" y="1027.7" width="5.51" height="55.7" fill="#c2e2b4"/>
<rect x="280.89" y="1027.7" width="5.51" height="55.7" fill="#a3d48e"/>
<rect x="286.15" y="1027.7" width="5.51" height="55.7" fill="#badfab"/>
<rect x="291.41" y="1027.7" width="5.51" height="55.7" fill="#a3d48e"/>
<rect x="296.68" y="1027.7" width="5.51" height="55.7" fill="#d8edcf"/>
<rect x="301.94" y="1027.7" width="5.51" height="55.7" fill="#a7d693"/>
<rect x="307.20" y="1027.7" width="5.51" height="55.7" fill="#9cd085"/>
<rect x="312.47" y="1027.7" width="5.51" height="55.7" fill="#fdefee"/>
<rect x="317.73" y="1027.7" width="10.78" height="55.7" fill="#a7d693"/>
<rect x="328.26" y="1027.7" width="5.51" height="55.7" fill="#f5a9a8"/>
<rect x="333.52" y="1027.7" width="5.51" height="55.7" fill="#afd99d"/>
<rect x="338.79" y="1027.7" width="5.51" height="55.7" fill="#cde8c1"/>
<rect x="344.05" y="1027.7" width="16.04" height="55.7" fill="#a0d28a"/>
<rect x="359.84" y="1027.7" width="5.51" height="55.7" fill="#9cd085"/>
<rect x="365.10" y="1027.7" width="5.51" height="55.7" fill="#c2e2b4"/>
<rect x="370.37" y="1027.7" width="5.51" height="55.7" fill="#badfab"/>
<rect x="375.63" y="1027.7" width="5.51" height="55.7" fill="#edf6e9"/>
<rect x="380.89" y="1027.7" width="5.51" height="55.7" fill="#b3dba1"/>
<rect x="386.16" y="1027.7" width="5.51" height="55.7" fill="#abd898"/>
<rect x="391.42" y="1027.7" width="5.51" height="55.7" fill="#c2e2b4"/>
<rect x="396.68" y="1027.7" width="5.51" height="55.7" fill="#a3d48e"/>
<rect x="401.95" y="1027.7" width="5.51" height="55.7" fill="#badfab"/>
<rect x="407.21" y="1027.7" width="5.51" height="55.7" fill="#cde8c1"/>
<rect x="412.47" y="1027.7" width="10.78" height="55.7" fill="#b3dba1"/>
<rect x="423.00" y="1027.7" width="5.51" height="55.7" fill="#e6f3e0"/>
<rect x="428.27" y="1027.7" width="5.51" height="55.7" fill="#f3faf1"/>
<rect x="433.53" y="1027.7" width="10.78" height="55.7" fill="#fce7e6"/>
<rect x="444.06" y="1027.7" width="5.51" height="55.7" fill="#f6fbf5"/>
<rect x="449.32" y="1027.7" width="5.51" height="55.7" fill="#cde8c1"/>
<rect x="454.58" y="1027.7" width="5.51" height="55.7" fill="#c2e2b4"/>
<rect x="459.85" y="1027.7" width="5.51" height="55.7" fill="#fce7e6"/>
<rect x="465.11" y="1027.7" width="5.51" height="55.7" fill="#badfab"/>
<rect x="470.37" y="1027.7" width="5.51" height="55.7" fill="#dff0d8"/>
<rect x="475.64" y="1027.7" width="5.51" height="55.7" fill="#fdebea"/>
<rect x="480.90" y="1027.7" width="5.51" height="55.7" fill="#a7d693"/>
<rect x="486.16" y="1027.7" width="5.51" height="55.7" fill="#c2e2b4"/>
<rect x="491.43" y="1027.7" width="5.51" height="55.7" fill="#fefaf9"/>
<rect x="496.69" y="1027.7" width="5.51" height="55.7" fill="#e6f3e0"/>
<rect x="501.95" y="1027.7" width="10.78" height="55.7" fill="#b3dba1"/>
<rect x="512.48" y="1027.7" width="5.51" height="55.7" fill="#fdf3f2"/>
<rect x="517.74" y="1027.7" width="5.51" height="55.7" fill="#94cd7b"/>
<rect x="523.01" y="1027.7" width="5.51" height="55.7" fill="#c2e2b4"/>
<rect x="528.27" y="1027.7" width="5.51" height="55.7" fill="#c9e6bd"/>
<rect x="533.53" y="1027.7" width="5.51" height="55.7" fill="#88c76d"/>
<rect x="538.80" y="1027.7" width="5.51" height="55.7" fill="#abd898"/>
<rect x="544.06" y="1027.7" width="5.51" height="55.7" fill="#cde8c1"/>
<rect x="549.33" y="1027.7" width="10.78" height="55.7" fill="#fffdfd"/>
<rect x="559.85" y="1027.7" width="10.78" height="55.7" fill="#b3dba1"/>
<rect x="570.38" y="1027.7" width="5.51" height="55.7" fill="#c2e2b4"/>
<rect x="575.64" y="1027.7" width="5.51" height="55.7" fill="#badfab"/>
<rect x="580.91" y="1027.7" width="5.51" height="55.7" fill="#c9e6bd"/>
<rect x="586.17" y="1027.7" width="5.51" height="55.7" fill="#abd898"/>
<rect x="591.43" y="1027.7" width="5.51" height="55.7" fill="#e9f5e4"/>
<rect x="596.70" y="1027.7" width="5.51" height="55.7" fill="#fef6f6"/>
<rect x="601.96" y="1027.7" width="5.51" height="55.7" fill="#b3dba1"/>
<rect x="607.22" y="1027.7" width="5.51" height="55.7" fill="#c2e2b4"/>
<rect x="612.49" y="1027.7" width="5.51" height="55.7" fill="#b3dba1"/>
<rect x="617.75" y="1027.7" width="5.51" height="55.7" fill="#ffffff"/>
<rect x="623.01" y="1027.7" width="5.51" height="55.7" fill="#c2e2b4"/>
<rect x="628.28" y="1027.7" width="5.51" height="55.7" fill="#fdebea"/>
<rect x="633.54" y="1027.7" width="5.51" height="55.7" fill="#d8edcf"/>
<rect x="638.80" y="1027.7" width="5.51" height="55.7" fill="#d4ebca"/>
<rect x="644.07" y="1027.7" width="5.51" height="55.7" fill="#dbeed3"/>
<rect x="649.33" y="1027.7" width="5.51" height="55.7" fill="#edf6e9"/>
<rect x="654.60" y="1027.7" width="5.51" height="55.7" fill="#b3dba1"/>
<rect x="659.86" y="1027.7" width="5.51" height="55.7" fill="#e6f3e0"/>
<rect x="665.12" y="1027.7" width="5.51" height="55.7" fill="#fadad9"/>
<rect x="670.39" y="1027.7" width="5.51" height="55.7" fill="#edf6e9"/>
<rect x="675.65" y="1027.7" width="5.51" height="55.7" fill="#c2e2b4"/>
<rect x="680.91" y="1027.7" width="5.51" height="55.7" fill="#fafcf8"/>
<rect x="686.18" y="1027.7" width="5.51" height="55.7" fill="#dff0d8"/>
<rect x="691.44" y="1027.7" width="5.51" height="55.7" fill="#a7d693"/>
<rect x="696.70" y="1027.7" width="5.51" height="55.7" fill="#f9d1d0"/>
<rect x="701.97" y="1027.7" width="5.51" height="55.7" fill="#b3dba1"/>
<rect x="707.23" y="1027.7" width="5.51" height="55.7" fill="#fffdfd"/>
<rect x="712.49" y="1027.7" width="5.51" height="55.7" fill="#e6f3e0"/>
<rect x="717.76" y="1027.7" width="5.51" height="55.7" fill="#d8edcf"/>
<rect x="723.02" y="1027.7" width="5.51" height="55.7" fill="#fdebea"/>
<rect x="728.28" y="1027.7" width="5.51" height="55.7" fill="#edf6e9"/>
<rect x="733.55" y="1027.7" width="5.51" height="55.7" fill="#ef7f7c"/>
<rect x="738.81" y="1027.7" width="5.51" height="55.7" fill="#c2e2b4"/>
<rect x="744.07" y="1027.7" width="5.51" height="55.7" fill="#cde8c1"/>
<rect x="749.34" y="1027.7" width="5.51" height="55.7" fill="#afd99d"/>
<rect x="754.60" y="1027.7" width="5.51" height="55.7" fill="#f9d1d0"/>
<rect x="759.87" y="1027.7" width="5.51" height="55.7" fill="#f18a87"/>
<rect x="765.13" y="1027.7" width="5.51" height="55.7" fill="#f9d1d0"/>
<rect x="770.39" y="1027.7" width="5.51" height="55.7" fill="#f7bdbc"/>
<rect x="775.66" y="1027.7" width="5.51" height="55.7" fill="#e6f3e0"/>
<rect x="780.92" y="1027.7" width="5.51" height="55.7" fill="#d8edcf"/>
<rect x="786.18" y="1027.7" width="5.51" height="55.7" fill="#f6b3b2"/>
<rect x="791.45" y="1027.7" width="5.51" height="55.7" fill="#f9cccb"/>
<rect x="796.71" y="1027.7" width="5.51" height="55.7" fill="#f7bdbc"/>
<rect x="801.97" y="1027.7" width="5.51" height="55.7" fill="#f3faf1"/>
<rect x="807.24" y="1027.7" width="5.51" height="55.7" fill="#dff0d8"/>
</g>
<path d="M149.3,834H86V937.7M149.3,889.3H112.3V986M86,937.7H112.3M149.3,944.3H119.3V1027.7M112.3,986H119.3M149.3,1000H127.7V1055.7H149.3M119.3,1027.7H127.7" fill="none" stroke="#222" stroke-width="1"/>
<text x="816.5" y="801.3" font-size="12.3" font-weight="bold">type</text>
<text x="816.5" y="839.3" font-size="13.4">ANG</text>
<text x="816.5" y="894.5" font-size="13.4">RNASE2</text>
<text x="816.5" y="949.7" font-size="13.4">YBX2</text>
<text x="816.5" y="1005.0" font-size="13.4">METTL1</text>
<text x="816.5" y="1060.4" font-size="13.4">LARP6</text>
<rect x="878.5" y="789.80" width="12.1" height="3.93" fill="#e73a36"/>
<rect x="878.5" y="793.43" width="12.1" height="3.93" fill="#e84440"/>
<rect x="878.5" y="797.06" width="12.1" height="3.93" fill="#e94d4a"/>
<rect x="878.5" y="800.70" width="12.1" height="3.93" fill="#ea5753"/>
<rect x="878.5" y="804.33" width="12.1" height="3.93" fill="#ec605d"/>
<rect x="878.5" y="807.96" width="12.1" height="3.93" fill="#ed6966"/>
<rect x="878.5" y="811.59" width="12.1" height="3.93" fill="#ee7270"/>
<rect x="878.5" y="815.22" width="12.1" height="3.93" fill="#ef7b79"/>
<rect x="878.5" y="818.86" width="12.1" height="3.93" fill="#f08482"/>
<rect x="878.5" y="822.49" width="12.1" height="3.93" fill="#f18d8b"/>
<rect x="878.5" y="826.12" width="12.1" height="3.93" fill="#f29694"/>
<rect x="878.5" y="829.75" width="12.1" height="3.93" fill="#f39f9d"/>
<rect x="878.5" y="833.38" width="12.1" height="3.93" fill="#f4a7a5"/>
<rect x="878.5" y="837.02" width="12.1" height="3.93" fill="#f5b0ae"/>
<rect x="878.5" y="840.65" width="12.1" height="3.93" fill="#f6b8b6"/>
<rect x="878.5" y="844.28" width="12.1" height="3.93" fill="#f7c0bf"/>
<rect x="878.5" y="847.91" width="12.1" height="3.93" fill="#f8c8c7"/>
<rect x="878.5" y="851.54" width="12.1" height="3.93" fill="#f9cfce"/>
<rect x="878.5" y="855.18" width="12.1" height="3.93" fill="#fad7d6"/>
<rect x="878.5" y="858.81" width="12.1" height="3.93" fill="#fbdede"/>
<rect x="878.5" y="862.44" width="12.1" height="3.93" fill="#fce5e5"/>
<rect x="878.5" y="866.07" width="12.1" height="3.93" fill="#fdecec"/>
<rect x="878.5" y="869.70" width="12.1" height="3.93" fill="#fdf2f2"/>
<rect x="878.5" y="873.34" width="12.1" height="3.93" fill="#fef8f8"/>
<rect x="878.5" y="876.97" width="12.1" height="3.93" fill="#fffdfd"/>
<rect x="878.5" y="880.60" width="12.1" height="3.93" fill="#fdfefc"/>
<rect x="878.5" y="884.23" width="12.1" height="3.93" fill="#f8fcf7"/>
<rect x="878.5" y="887.86" width="12.1" height="3.93" fill="#f3f9f0"/>
<rect x="878.5" y="891.50" width="12.1" height="3.93" fill="#eef7ea"/>
<rect x="878.5" y="895.13" width="12.1" height="3.93" fill="#e8f4e3"/>
<rect x="878.5" y="898.76" width="12.1" height="3.93" fill="#e3f2dc"/>
<rect x="878.5" y="902.39" width="12.1" height="3.93" fill="#ddefd5"/>
<rect x="878.5" y="906.02" width="12.1" height="3.93" fill="#d7ecce"/>
<rect x="878.5" y="909.66" width="12.1" height="3.93" fill="#d1e9c7"/>
<rect x="878.5" y="913.29" width="12.1" height="3.93" fill="#cbe7bf"/>
<rect x="878.5" y="916.92" width="12.1" height="3.93" fill="#c5e4b8"/>
<rect x="878.5" y="920.55" width="12.1" height="3.93" fill="#bfe1b0"/>
<rect x="878.5" y="924.18" width="12.1" height="3.93" fill="#b9dea9"/>
<rect x="878.5" y="927.82" width="12.1" height="3.93" fill="#b3dba1"/>
<rect x="878.5" y="931.45" width="12.1" height="3.93" fill="#acd899"/>
<rect x="878.5" y="935.08" width="12.1" height="3.93" fill="#a6d592"/>
<rect x="878.5" y="938.71" width="12.1" height="3.93" fill="#a0d28a"/>
<rect x="878.5" y="942.34" width="12.1" height="3.93" fill="#99cf82"/>
<rect x="878.5" y="945.98" width="12.1" height="3.93" fill="#93cc7a"/>
<rect x="878.5" y="949.61" width="12.1" height="3.93" fill="#8dc972"/>
<rect x="878.5" y="953.24" width="12.1" height="3.93" fill="#86c66a"/>
<rect x="878.5" y="956.87" width="12.1" height="3.93" fill="#80c362"/>
<rect x="878.5" y="960.50" width="12.1" height="3.93" fill="#79c05a"/>
<rect x="878.5" y="964.14" width="12.1" height="3.93" fill="#73bd52"/>
<rect x="878.5" y="967.77" width="12.1" height="3.93" fill="#6cba4a"/>
<text x="895.6" y="815.2" font-size="12.3">3.2</text>
<text x="895.6" y="843.2" font-size="12.3">3</text>
<text x="895.6" y="871.3" font-size="12.3">2.8</text>
<text x="895.6" y="899.7" font-size="12.3">2.6</text>
<text x="895.6" y="927.8" font-size="12.3">2.4</text>
<text x="895.6" y="955.9" font-size="12.3">2.2</text>
<text x="915.7" y="798.3" font-size="12" font-weight="bold">type</text>
<rect x="915.7" y="803" width="17.1" height="17.1" fill="#12d0d8"/><rect x="915.7" y="820.1" width="17.1" height="17.1" fill="#f88d87"/>
<clipPath id="cl"><rect x="930" y="780" width="27.2" height="70"/></clipPath>
<g clip-path="url(#cl)"><text x="936.3" y="815.7" font-size="12.3">high</text><text x="936.3" y="833" font-size="12.3">low</text></g>
</g>
</svg></body></html>
